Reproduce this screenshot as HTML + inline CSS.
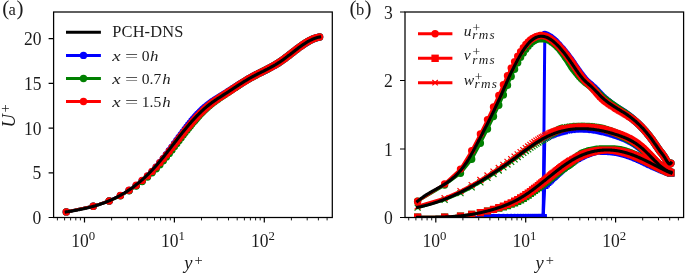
<!DOCTYPE html>
<html><head><meta charset="utf-8"><title>figure</title><style>html,body{margin:0;padding:0;background:#fff}svg{display:block}</style></head><body>
<svg width="685" height="274" viewBox="0 0 685 274">
<rect width="685" height="274" fill="#fff"/>
<defs><clipPath id="ca"><rect x="53.6" y="12.0" width="278.7" height="205.5"/></clipPath><clipPath id="cb"><rect x="405.0" y="12.0" width="278.6" height="205.5"/></clipPath></defs>
<g clip-path="url(#ca)">
<polyline points="66.3,211.9 93.3,206.3 109.2,200.9 120.4,195.6 129.1,190.5 136.2,185.6 142.2,180.8 147.5,176.2 152.1,171.6 156.2,167.2 159.9,162.8 163.3,158.6 166.4,154.6 169.3,150.8 172,147.2 174.5,143.8 176.9,140.5 179.1,137.5 181.2,134.6 183.2,131.9 185.1,129.4 187,127 188.7,124.8 190.4,122.7 191.9,120.8 193.5,119 195,117.3 196.4,115.8 197.7,114.3 199.1,112.9 200.3,111.6 201.6,110.4 202.8,109.3 204,108.3 205.1,107.3 206.2,106.4 207.3,105.5 208.3,104.7 209.3,103.9 210.3,103.2 211.3,102.5 212.2,101.8 213.1,101.2 214,100.6 214.9,100 215.8,99.5 216.6,98.9 217.4,98.4 218.2,97.9 219,97.4 219.8,96.9 220.5,96.5 221.3,96 222,95.6 222.7,95.1 223.4,94.7 224.1,94.3 224.8,93.9 225.5,93.4 226.1,93 226.8,92.6 227.4,92.2 228,91.8 228.6,91.4 229.3,91 229.9,90.7 230.4,90.3 231,89.9 231.6,89.6 232.1,89.2 232.7,88.8 233.2,88.5 233.8,88.1 234.3,87.8 234.8,87.5 235.4,87.1 235.9,86.8 236.4,86.5 236.9,86.1 237.4,85.8 237.8,85.5 238.3,85.2 238.8,84.9 239.3,84.6 239.7,84.3 240.2,84 240.6,83.7 241.1,83.5 241.5,83.2 242,82.9 242.4,82.6 242.8,82.4 243.7,81.8 244.5,81.3 245.3,80.9 246.1,80.4 246.8,79.9 247.6,79.5 248.3,79 249.1,78.6 249.8,78.2 250.5,77.8 251.2,77.4 251.9,77 252.5,76.7 253.2,76.3 253.8,76 254.5,75.6 255.1,75.3 255.7,75 256.3,74.7 256.9,74.4 257.5,74.1 258.1,73.8 258.6,73.5 259.2,73.2 259.8,72.9 260.3,72.7 260.8,72.4 261.4,72.1 261.9,71.9 262.4,71.6 262.9,71.4 263.4,71.1 263.9,70.9 264.4,70.6 264.9,70.4 265.4,70.1 265.9,69.9 266.3,69.7 266.8,69.4 267.2,69.2 267.7,69 268.1,68.7 268.8,68.4 269.5,68 270.1,67.7 270.7,67.4 271.3,67 271.9,66.7 272.5,66.4 273.1,66 273.7,65.7 274.3,65.4 274.9,65 275.4,64.7 276,64.4 276.5,64.1 277,63.7 277.6,63.4 278.1,63.1 278.6,62.7 279.1,62.4 279.6,62.1 280.1,61.8 280.6,61.4 281.1,61.1 281.5,60.8 282,60.4 282.5,60.1 282.9,59.8 283.4,59.5 283.8,59.1 284.3,58.8 284.7,58.5 285.1,58.2 285.6,57.8 286,57.5 286.4,57.2 286.8,56.9 287.2,56.6 287.6,56.3 288,56 288.4,55.7 289,55.2 289.5,54.8 290,54.5 290.5,54.1 291,53.7 291.5,53.3 292,52.9 292.5,52.5 292.9,52.2 293.4,51.8 293.9,51.4 294.3,51.1 294.8,50.7 295.2,50.4 295.6,50.1 296.1,49.7 296.5,49.4 296.9,49.1 297.4,48.7 297.8,48.4 298.2,48.1 298.6,47.8 299,47.5 299.5,47.1 300,46.8 300.5,46.4 301,46.1 301.4,45.7 301.9,45.4 302.4,45.1 302.8,44.8 303.3,44.5 303.7,44.2 304.2,43.9 304.6,43.6 305.1,43.3 305.5,43 305.9,42.8 306.4,42.5 306.9,42.2 307.4,41.9 307.9,41.6 308.4,41.3 308.8,41 309.3,40.8 309.8,40.6 310.2,40.3 310.7,40.1 311.2,39.8 311.7,39.6 312.2,39.4 312.7,39.1 313.2,38.9 313.7,38.7 314.2,38.5 314.6,38.4 315.2,38.2 315.7,38 316.2,37.8 316.7,37.7 317.2,37.5 317.7,37.4 318.2,37.3 318.8,37.2 319.3,37.1 319.6,37" fill="none" stroke="#0000ff" stroke-width="3.0" stroke-linejoin="round" stroke-linecap="square"/>
<path d="M66.3 211.9h0M93.3 206.3h0M109.2 200.9h0M120.4 195.6h0M129.1 190.5h0M136.2 185.6h0M142.2 180.8h0M147.5 176.2h0M152.1 171.6h0M156.2 167.2h0M159.9 162.8h0M163.3 158.6h0M166.4 154.6h0M169.3 150.8h0M172 147.2h0M174.5 143.8h0M176.9 140.5h0M179.1 137.5h0M181.2 134.6h0M183.2 131.9h0M185.1 129.4h0M187 127h0M188.7 124.8h0M190.4 122.7h0M191.9 120.8h0M193.5 119h0M195 117.3h0M196.4 115.8h0M197.7 114.3h0M199.1 112.9h0M200.3 111.6h0M201.6 110.4h0M202.8 109.3h0M204 108.3h0M205.1 107.3h0M206.2 106.4h0M207.3 105.5h0M208.3 104.7h0M209.3 103.9h0M210.3 103.2h0M211.3 102.5h0M212.2 101.8h0M213.1 101.2h0M214 100.6h0M214.9 100h0M215.8 99.5h0M216.6 98.9h0M217.4 98.4h0M218.2 97.9h0M219 97.4h0M219.8 96.9h0M221.3 96h0M222.7 95.1h0M224.1 94.3h0M225.5 93.4h0M226.8 92.6h0M228 91.8h0M229.3 91h0M230.4 90.3h0M231.6 89.6h0M232.7 88.8h0M233.8 88.1h0M234.8 87.5h0M235.9 86.8h0M236.9 86.1h0M237.8 85.5h0M238.8 84.9h0M239.7 84.3h0M240.6 83.7h0M241.5 83.2h0M242.4 82.6h0M243.2 82.1h0M244.1 81.6h0M244.9 81.1h0M245.7 80.6h0M246.5 80.1h0M247.6 79.5h0M248.7 78.8h0M249.8 78.2h0M250.8 77.6h0M251.9 77h0M252.9 76.5h0M253.8 76h0M254.8 75.5h0M255.7 75h0M256.6 74.5h0M257.5 74.1h0M258.4 73.6h0M259.2 73.2h0M260 72.8h0M260.8 72.4h0M261.9 71.9h0M262.9 71.4h0M263.9 70.9h0M264.9 70.4h0M265.9 69.9h0M266.8 69.4h0M267.7 69h0M268.6 68.5h0M269.5 68h0M270.3 67.6h0M271.1 67.1h0M271.9 66.7h0M272.7 66.3h0M273.7 65.7h0M274.7 65.2h0M275.6 64.6h0M276.5 64.1h0M277.4 63.5h0M278.3 63h0M279.1 62.4h0M279.9 61.9h0M280.7 61.3h0M281.5 60.8h0M282.3 60.2h0M283.1 59.7h0M283.8 59.1h0M284.6 58.6h0M285.4 57.9h0M286.3 57.3h0M287.1 56.7h0M287.9 56.1h0M288.7 55.5h0M289.5 54.8h0M290.2 54.3h0M291 53.7h0M291.7 53.1h0M292.5 52.5h0M293.3 51.9h0M294.1 51.3h0M294.9 50.6h0M295.6 50.1h0M296.4 49.5h0M297.2 48.9h0M297.9 48.3h0M298.7 47.7h0M299.5 47.1h0M300.3 46.6h0M301.1 46h0M301.8 45.5h0M302.6 45h0M303.4 44.4h0M304.2 43.9h0M305 43.4h0M305.7 42.9h0M306.6 42.4h0M307.4 41.9h0M308.2 41.4h0M309 41h0M309.8 40.5h0M310.7 40.1h0M311.5 39.7h0M312.3 39.3h0M313.2 38.9h0M314.1 38.6h0M315 38.2h0M315.8 38h0M316.7 37.7h0M317.6 37.4h0M318.5 37.2h0M319.5 37.1h0M319.6 37h0" fill="none" stroke="#0000ff" stroke-width="7.4" stroke-linecap="round"/>
<polyline points="66.3,211.9 93.3,206.3 109.2,201 120.4,195.8 129.1,190.8 136.2,186 142.2,181.5 147.5,177.1 152.1,172.8 156.2,168.7 159.9,164.7 163.3,160.8 166.4,157 169.3,153.4 172,149.9 174.5,146.6 176.9,143.5 179.1,140.5 181.2,137.7 183.2,135.1 185.1,132.6 187,130.2 188.7,128 190.4,125.9 191.9,124 193.5,122.1 195,120.4 196.4,118.7 197.7,117.2 199.1,115.7 200.3,114.3 201.6,113 202.8,111.8 204,110.6 205.1,109.5 206.2,108.5 207.3,107.5 208.3,106.6 209.3,105.7 210.3,104.8 211.3,104.1 212.2,103.3 213.1,102.6 214,101.9 214.9,101.3 215.8,100.6 216.6,100 217.4,99.4 218.2,98.9 219,98.3 219.8,97.8 220.5,97.3 221.3,96.8 222,96.3 222.7,95.8 223.4,95.4 224.1,94.9 224.8,94.5 225.5,94 226.1,93.6 226.8,93.2 227.4,92.7 228,92.3 228.6,91.9 229.3,91.5 229.9,91.1 230.4,90.7 231,90.3 231.6,89.9 232.1,89.6 232.7,89.2 233.2,88.8 233.8,88.4 234.3,88.1 234.8,87.7 235.4,87.4 235.9,87.1 236.4,86.7 236.9,86.4 237.4,86.1 237.8,85.7 238.3,85.4 238.8,85.1 239.3,84.8 239.7,84.5 240.2,84.2 240.6,83.9 241.1,83.6 241.5,83.3 242,83.1 242.4,82.8 242.8,82.5 243.7,82 244.5,81.5 245.3,81 246.1,80.5 246.8,80 247.6,79.6 248.3,79.1 249.1,78.7 249.8,78.3 250.5,77.9 251.2,77.5 251.9,77.1 252.5,76.7 253.2,76.4 253.8,76 254.5,75.7 255.1,75.4 255.7,75 256.3,74.7 256.9,74.4 257.5,74.1 258.1,73.8 258.6,73.5 259.2,73.3 259.8,73 260.3,72.7 260.8,72.4 261.4,72.2 261.9,71.9 262.4,71.6 262.9,71.4 263.4,71.1 263.9,70.9 264.4,70.6 264.9,70.4 265.4,70.2 265.9,69.9 266.3,69.7 266.8,69.4 267.2,69.2 267.7,69 268.1,68.7 268.8,68.4 269.5,68.1 270.1,67.7 270.7,67.4 271.3,67 271.9,66.7 272.5,66.4 273.1,66 273.7,65.7 274.3,65.4 274.9,65 275.4,64.7 276,64.4 276.5,64.1 277,63.7 277.6,63.4 278.1,63.1 278.6,62.7 279.1,62.4 279.6,62.1 280.1,61.8 280.6,61.4 281.1,61.1 281.5,60.8 282,60.4 282.5,60.1 282.9,59.8 283.4,59.5 283.8,59.1 284.3,58.8 284.7,58.5 285.1,58.2 285.6,57.8 286,57.5 286.4,57.2 286.8,56.9 287.2,56.6 287.6,56.3 288,56 288.4,55.7 289,55.3 289.5,54.8 290,54.5 290.5,54.1 291,53.7 291.5,53.3 292,52.9 292.5,52.5 292.9,52.2 293.4,51.8 293.9,51.4 294.3,51.1 294.8,50.7 295.2,50.4 295.6,50.1 296.1,49.7 296.5,49.4 296.9,49.1 297.4,48.7 297.8,48.4 298.2,48.1 298.6,47.8 299,47.5 299.5,47.1 300,46.8 300.5,46.4 301,46.1 301.4,45.7 301.9,45.4 302.4,45.1 302.8,44.8 303.3,44.5 303.7,44.2 304.2,43.9 304.6,43.6 305.1,43.3 305.5,43 305.9,42.8 306.4,42.5 306.9,42.2 307.4,41.9 307.9,41.6 308.4,41.3 308.8,41.1 309.3,40.8 309.8,40.6 310.2,40.3 310.7,40.1 311.2,39.8 311.7,39.6 312.2,39.4 312.7,39.1 313.2,38.9 313.7,38.7 314.2,38.5 314.6,38.4 315.2,38.2 315.7,38 316.2,37.8 316.7,37.7 317.2,37.5 317.7,37.4 318.2,37.3 318.8,37.2 319.3,37.1 319.6,37" fill="none" stroke="#008000" stroke-width="3.0" stroke-linejoin="round" stroke-linecap="square"/>
<path d="M66.3 211.9h0M93.3 206.3h0M109.2 201h0M120.4 195.8h0M129.1 190.8h0M136.2 186h0M142.2 181.5h0M147.5 177.1h0M152.1 172.8h0M156.2 168.7h0M159.9 164.7h0M163.3 160.8h0M166.4 157h0M169.3 153.4h0M172 149.9h0M174.5 146.6h0M176.9 143.5h0M179.1 140.5h0M181.2 137.7h0M183.2 135.1h0M185.1 132.6h0M187 130.2h0M188.7 128h0M190.4 125.9h0M191.9 124h0M193.5 122.1h0M195 120.4h0M196.4 118.7h0M197.7 117.2h0M199.1 115.7h0M200.3 114.3h0M201.6 113h0M202.8 111.8h0M204 110.6h0M205.1 109.5h0M206.2 108.5h0M207.3 107.5h0M208.3 106.6h0M209.3 105.7h0M210.3 104.8h0M211.3 104.1h0M212.2 103.3h0M213.1 102.6h0M214 101.9h0M214.9 101.3h0M215.8 100.6h0M216.6 100h0M217.4 99.4h0M218.2 98.9h0M219 98.3h0M219.8 97.8h0M220.5 97.3h0M222 96.3h0M223.4 95.4h0M224.8 94.5h0M226.1 93.6h0M227.4 92.7h0M228.6 91.9h0M229.9 91.1h0M231 90.3h0M232.1 89.6h0M233.2 88.8h0M234.3 88.1h0M235.4 87.4h0M236.4 86.7h0M237.4 86.1h0M238.3 85.4h0M239.3 84.8h0M240.2 84.2h0M241.1 83.6h0M242 83.1h0M242.8 82.5h0M243.7 82h0M244.5 81.5h0M245.3 81h0M246.1 80.5h0M246.8 80h0M248 79.3h0M249.1 78.7h0M250.1 78.1h0M251.2 77.5h0M252.2 76.9h0M253.2 76.4h0M254.2 75.9h0M255.1 75.4h0M256 74.9h0M256.9 74.4h0M257.8 74h0M258.6 73.5h0M259.5 73.1h0M260.3 72.7h0M261.1 72.3h0M262.2 71.8h0M263.2 71.3h0M264.2 70.8h0M265.2 70.3h0M266.1 69.8h0M267 69.3h0M267.9 68.9h0M268.8 68.4h0M269.7 67.9h0M270.5 67.5h0M271.3 67h0M272.1 66.6h0M272.9 66.1h0M273.9 65.6h0M274.9 65h0M275.8 64.5h0M276.7 64h0M277.6 63.4h0M278.4 62.9h0M279.3 62.3h0M280.1 61.8h0M280.9 61.2h0M281.7 60.7h0M282.5 60.1h0M283.2 59.6h0M284 59h0M284.7 58.5h0M285.6 57.8h0M286.4 57.2h0M287.2 56.6h0M288 56h0M288.8 55.4h0M289.6 54.7h0M290.4 54.2h0M291.1 53.6h0M291.9 53h0M292.6 52.4h0M293.4 51.8h0M294.2 51.2h0M295 50.6h0M295.8 50h0M296.5 49.4h0M297.3 48.8h0M298 48.3h0M298.8 47.7h0M299.6 47.1h0M300.4 46.5h0M301.2 45.9h0M301.9 45.4h0M302.7 44.9h0M303.5 44.3h0M304.3 43.8h0M305.1 43.3h0M305.8 42.8h0M306.7 42.3h0M307.5 41.8h0M308.3 41.4h0M309.1 40.9h0M310 40.4h0M310.8 40h0M311.7 39.6h0M312.6 39.2h0M313.4 38.8h0M314.3 38.5h0M315.2 38.2h0M316 37.9h0M316.9 37.6h0M317.8 37.4h0M318.7 37.2h0M319.6 37h0" fill="none" stroke="#008000" stroke-width="7.4" stroke-linecap="round"/>
<polyline points="66.3,211.9 93.3,206.3 109.2,200.9 120.4,195.5 129.1,190.3 136.2,185.3 142.2,180.5 147.5,175.9 152.1,171.4 156.2,167.1 159.9,162.8 163.3,158.8 166.4,154.9 169.3,151.3 172,147.8 174.5,144.5 176.9,141.4 179.1,138.5 181.2,135.8 183.2,133.2 185.1,130.8 187,128.5 188.7,126.4 190.4,124.4 191.9,122.5 193.5,120.7 195,119 196.4,117.5 197.7,116 199.1,114.6 200.3,113.3 201.6,112.1 202.8,110.9 204,109.8 205.1,108.7 206.2,107.7 207.3,106.8 208.3,105.9 209.3,105.1 210.3,104.3 211.3,103.5 212.2,102.8 213.1,102.1 214,101.5 214.9,100.8 215.8,100.2 216.6,99.7 217.4,99.1 218.2,98.6 219,98 219.8,97.5 220.5,97 221.3,96.5 222,96.1 222.7,95.6 223.4,95.1 224.1,94.7 224.8,94.2 225.5,93.8 226.1,93.4 226.8,93 227.4,92.5 228,92.1 228.6,91.7 229.3,91.3 229.9,90.9 230.4,90.5 231,90.2 231.6,89.8 232.1,89.4 232.7,89 233.2,88.7 233.8,88.3 234.3,88 234.8,87.6 235.4,87.3 235.9,86.9 236.4,86.6 236.9,86.3 237.4,86 237.8,85.6 238.3,85.3 238.8,85 239.3,84.7 239.7,84.4 240.2,84.1 240.6,83.8 241.1,83.5 241.5,83.3 242,83 242.4,82.7 242.8,82.4 243.7,81.9 244.5,81.4 245.3,80.9 246.1,80.4 246.8,80 247.6,79.5 248.3,79.1 249.1,78.6 249.8,78.2 250.5,77.8 251.2,77.4 251.9,77.1 252.5,76.7 253.2,76.3 253.8,76 254.5,75.7 255.1,75.3 255.7,75 256.3,74.7 256.9,74.4 257.5,74.1 258.1,73.8 258.6,73.5 259.2,73.2 259.8,73 260.3,72.7 260.8,72.4 261.4,72.2 261.9,71.9 262.4,71.6 262.9,71.4 263.4,71.1 263.9,70.9 264.4,70.6 264.9,70.4 265.4,70.1 265.9,69.9 266.3,69.7 266.8,69.4 267.2,69.2 267.7,69 268.1,68.7 268.8,68.4 269.5,68 270.1,67.7 270.7,67.4 271.3,67 271.9,66.7 272.5,66.4 273.1,66 273.7,65.7 274.3,65.4 274.9,65 275.4,64.7 276,64.4 276.5,64.1 277,63.7 277.6,63.4 278.1,63.1 278.6,62.7 279.1,62.4 279.6,62.1 280.1,61.8 280.6,61.4 281.1,61.1 281.5,60.8 282,60.4 282.5,60.1 282.9,59.8 283.4,59.5 283.8,59.1 284.3,58.8 284.7,58.5 285.1,58.2 285.6,57.8 286,57.5 286.4,57.2 286.8,56.9 287.2,56.6 287.6,56.3 288,56 288.4,55.7 289,55.2 289.5,54.8 290,54.5 290.5,54.1 291,53.7 291.5,53.3 292,52.9 292.5,52.5 292.9,52.2 293.4,51.8 293.9,51.4 294.3,51.1 294.8,50.7 295.2,50.4 295.6,50.1 296.1,49.7 296.5,49.4 296.9,49.1 297.4,48.7 297.8,48.4 298.2,48.1 298.6,47.8 299,47.5 299.5,47.1 300,46.8 300.5,46.4 301,46.1 301.4,45.7 301.9,45.4 302.4,45.1 302.8,44.8 303.3,44.5 303.7,44.2 304.2,43.9 304.6,43.6 305.1,43.3 305.5,43 305.9,42.8 306.4,42.5 306.9,42.2 307.4,41.9 307.9,41.6 308.4,41.3 308.8,41.1 309.3,40.8 309.8,40.6 310.2,40.3 310.7,40.1 311.2,39.8 311.7,39.6 312.2,39.4 312.7,39.1 313.2,38.9 313.7,38.7 314.2,38.5 314.6,38.4 315.2,38.2 315.7,38 316.2,37.8 316.7,37.7 317.2,37.5 317.7,37.4 318.2,37.3 318.8,37.2 319.3,37.1 319.6,37" fill="none" stroke="#ff0000" stroke-width="3.0" stroke-linejoin="round" stroke-linecap="square"/>
<path d="M66.3 211.9h0M93.3 206.3h0M109.2 200.9h0M120.4 195.5h0M129.1 190.3h0M136.2 185.3h0M142.2 180.5h0M147.5 175.9h0M152.1 171.4h0M156.2 167.1h0M159.9 162.8h0M163.3 158.8h0M166.4 154.9h0M169.3 151.3h0M172 147.8h0M174.5 144.5h0M176.9 141.4h0M179.1 138.5h0M181.2 135.8h0M183.2 133.2h0M185.1 130.8h0M187 128.5h0M188.7 126.4h0M190.4 124.4h0M191.9 122.5h0M193.5 120.7h0M195 119h0M196.4 117.5h0M197.7 116h0M199.1 114.6h0M200.3 113.3h0M201.6 112.1h0M202.8 110.9h0M204 109.8h0M205.1 108.7h0M206.2 107.7h0M207.3 106.8h0M208.3 105.9h0M209.3 105.1h0M210.3 104.3h0M211.3 103.5h0M212.2 102.8h0M213.1 102.1h0M214 101.5h0M214.9 100.8h0M215.8 100.2h0M216.6 99.7h0M217.4 99.1h0M218.2 98.6h0M219 98h0M219.8 97.5h0M220.5 97h0M222 96.1h0M223.4 95.1h0M224.8 94.2h0M226.1 93.4h0M227.4 92.5h0M228.6 91.7h0M229.9 90.9h0M231 90.2h0M232.1 89.4h0M233.2 88.7h0M234.3 88h0M235.4 87.3h0M236.4 86.6h0M237.4 86h0M238.3 85.3h0M239.3 84.7h0M240.2 84.1h0M241.1 83.5h0M242 83h0M242.8 82.4h0M243.7 81.9h0M244.5 81.4h0M245.3 80.9h0M246.1 80.4h0M246.8 80h0M248 79.3h0M249.1 78.6h0M250.1 78h0M251.2 77.4h0M252.2 76.9h0M253.2 76.3h0M254.2 75.8h0M255.1 75.3h0M256 74.9h0M256.9 74.4h0M257.8 74h0M258.6 73.5h0M259.5 73.1h0M260.3 72.7h0M261.4 72.2h0M262.4 71.6h0M263.4 71.1h0M264.4 70.6h0M265.4 70.1h0M266.3 69.7h0M267.2 69.2h0M268.1 68.7h0M269 68.3h0M269.9 67.8h0M270.7 67.4h0M271.5 66.9h0M272.3 66.5h0M273.1 66h0M274.1 65.5h0M275 64.9h0M276 64.4h0M276.9 63.8h0M277.7 63.3h0M278.6 62.7h0M279.4 62.2h0M280.3 61.7h0M281.1 61.1h0M281.8 60.6h0M282.6 60h0M283.4 59.5h0M284.1 58.9h0M284.9 58.4h0M285.7 57.7h0M286.6 57.1h0M287.4 56.5h0M288.2 55.9h0M289 55.2h0M289.7 54.6h0M290.5 54.1h0M291.2 53.5h0M292 52.9h0M292.7 52.3h0M293.5 51.7h0M294.3 51.1h0M295.1 50.5h0M295.9 49.9h0M296.6 49.3h0M297.4 48.7h0M298.1 48.2h0M298.9 47.6h0M299.7 47h0M300.5 46.4h0M301.3 45.9h0M302 45.4h0M302.8 44.8h0M303.7 44.2h0M304.4 43.7h0M305.2 43.2h0M306 42.7h0M306.8 42.2h0M307.6 41.7h0M308.4 41.3h0M309.3 40.8h0M310.1 40.4h0M311 39.9h0M311.8 39.5h0M312.7 39.1h0M313.5 38.8h0M314.4 38.4h0M315.3 38.1h0M316.2 37.8h0M317.1 37.6h0M318 37.4h0M318.9 37.2h0M319.6 37h0" fill="none" stroke="#ff0000" stroke-width="7.4" stroke-linecap="round"/>
<polyline points="66.3,211.9 66.9,211.8 67.5,211.7 68.2,211.6 68.8,211.5 69.4,211.4 70.1,211.3 70.7,211.2 71.4,211.1 72,211 72.6,210.9 73.3,210.7 73.9,210.6 74.5,210.5 75.2,210.4 75.8,210.3 76.4,210.2 77.1,210.1 77.7,209.9 78.3,209.8 79,209.7 79.6,209.6 80.2,209.4 80.9,209.3 81.5,209.2 82.1,209 82.8,208.9 83.4,208.8 84,208.6 84.7,208.5 85.3,208.3 86,208.2 86.6,208.1 87.2,207.9 87.9,207.7 88.5,207.6 89.1,207.4 89.8,207.3 90.4,207.1 91,206.9 91.7,206.8 92.3,206.6 92.9,206.4 93.6,206.2 94.2,206.1 94.8,205.9 95.5,205.7 96.1,205.5 96.7,205.3 97.4,205.1 98,204.9 98.7,204.7 99.3,204.5 99.9,204.3 100.6,204.1 101.2,203.8 101.8,203.6 102.5,203.4 103.1,203.2 103.7,202.9 104.4,202.7 105,202.5 105.6,202.2 106.3,202 106.9,201.7 107.5,201.4 108.2,201.2 108.8,200.9 109.4,200.6 110.1,200.4 110.7,200.1 111.3,199.8 112,199.5 112.6,199.2 113.3,198.9 113.9,198.6 114.5,198.3 115.2,198 115.8,197.7 116.4,197.4 117.1,197.1 117.7,196.7 118.3,196.4 119,196.1 119.6,195.7 120.2,195.4 120.9,195 121.5,194.7 122.1,194.3 122.8,193.9 123.4,193.5 124,193.2 124.7,192.8 125.3,192.4 125.9,192 126.6,191.6 127.2,191.2 127.9,190.8 128.5,190.3 129.1,189.9 129.8,189.5 130.4,189 131,188.6 131.7,188.1 132.3,187.7 132.9,187.2 133.6,186.8 134.2,186.3 134.8,185.8 135.5,185.3 136.1,184.8 136.7,184.3 137.4,183.8 138,183.3 138.6,182.8 139.3,182.3 139.9,181.7 140.6,181.2 141.2,180.6 141.8,180.1 142.5,179.5 143.1,179 143.7,178.4 144.4,177.8 145,177.2 145.6,176.6 146.3,176 146.9,175.4 147.5,174.8 148.2,174.2 148.8,173.5 149.4,172.9 150.1,172.2 150.7,171.6 151.3,170.9 152,170.2 152.6,169.6 153.2,168.9 153.9,168.2 154.5,167.5 155.2,166.8 155.8,166.1 156.4,165.3 157.1,164.6 157.7,163.9 158.3,163.1 159,162.4 159.6,161.6 160.2,160.9 160.9,160.1 161.5,159.3 162.1,158.5 162.8,157.8 163.4,157 164,156.2 164.7,155.4 165.3,154.6 165.9,153.8 166.6,153 167.2,152.2 167.8,151.3 168.5,150.5 169.1,149.7 169.8,148.9 170.4,148.1 171,147.3 171.7,146.4 172.3,145.6 172.9,144.8 173.6,144 174.2,143.2 174.8,142.3 175.5,141.5 176.1,140.7 176.7,139.9 177.4,139.1 178,138.2 178.6,137.4 179.3,136.6 179.9,135.8 180.5,135 181.2,134.2 181.8,133.4 182.4,132.6 183.1,131.8 183.7,131 184.4,130.2 185,129.4 185.6,128.7 186.3,127.9 186.9,127.1 187.5,126.4 188.2,125.6 188.8,124.9 189.4,124.1 190.1,123.4 190.7,122.7 191.3,121.9 192,121.2 192.6,120.5 193.2,119.8 193.9,119.1 194.5,118.4 195.1,117.7 195.8,117.1 196.4,116.4 197.1,115.7 197.7,115.1 198.3,114.5 199,113.8 199.6,113.2 200.2,112.6 200.9,112 201.5,111.3 202.1,110.7 202.8,110.2 203.4,109.6 204,109 204.7,108.4 205.3,107.9 205.9,107.3 206.6,106.8 207.2,106.3 207.8,105.8 208.5,105.2 209.1,104.7 209.7,104.2 210.4,103.8 211,103.3 211.7,102.8 212.3,102.3 212.9,101.9 213.6,101.4 214.2,101 214.8,100.6 215.5,100.1 216.1,99.7 216.7,99.3 217.4,98.8 218,98.4 218.6,98 219.3,97.6 219.9,97.2 220.5,96.8 221.2,96.4 221.8,96 222.4,95.6 223.1,95.2 223.7,94.7 224.3,94.3 225,93.9 225.6,93.5 226.3,93.1 226.9,92.7 227.5,92.3 228.2,91.9 228.8,91.5 229.4,91.1 230.1,90.6 230.7,90.2 231.3,89.8 232,89.4 232.6,89 233.2,88.6 233.9,88.1 234.5,87.7 235.1,87.3 235.8,86.9 236.4,86.5 237,86.1 237.7,85.7 238.3,85.2 238.9,84.8 239.6,84.4 240.2,84 240.9,83.6 241.5,83.2 242.1,82.8 242.8,82.4 243.4,82 244,81.6 244.7,81.2 245.3,80.9 245.9,80.5 246.6,80.1 247.2,79.7 247.8,79.3 248.5,79 249.1,78.6 249.7,78.2 250.4,77.9 251,77.5 251.6,77.2 252.3,76.8 252.9,76.5 253.6,76.1 254.2,75.8 254.8,75.5 255.5,75.1 256.1,74.8 256.7,74.5 257.4,74.2 258,73.8 258.6,73.5 259.3,73.2 259.9,72.9 260.5,72.6 261.2,72.2 261.8,71.9 262.4,71.6 263.1,71.3 263.7,71 264.3,70.7 265,70.3 265.6,70 266.2,69.7 266.9,69.4 267.5,69.1 268.2,68.7 268.8,68.4 269.4,68.1 270.1,67.7 270.7,67.4 271.3,67 272,66.7 272.6,66.3 273.2,66 273.9,65.6 274.5,65.2 275.1,64.9 275.8,64.5 276.4,64.1 277,63.7 277.7,63.3 278.3,62.9 278.9,62.5 279.6,62.1 280.2,61.7 280.8,61.2 281.5,60.8 282.1,60.4 282.8,59.9 283.4,59.5 284,59 284.7,58.5 285.3,58.1 285.9,57.6 286.6,57.1 287.2,56.6 287.8,56.1 288.5,55.6 289.1,55.1 289.7,54.7 290.4,54.2 291,53.7 291.6,53.2 292.3,52.7 292.9,52.2 293.5,51.7 294.2,51.2 294.8,50.7 295.4,50.2 296.1,49.7 296.7,49.2 297.4,48.8 298,48.3 298.6,47.8 299.3,47.3 299.9,46.9 300.5,46.4 301.2,45.9 301.8,45.5 302.4,45.1 303.1,44.6 303.7,44.2 304.3,43.8 305,43.4 305.6,43 306.2,42.6 306.9,42.2 307.5,41.8 308.1,41.4 308.8,41.1 309.4,40.7 310.1,40.4 310.7,40.1 311.3,39.8 312,39.5 312.6,39.2 313.2,38.9 313.9,38.7 314.5,38.4 315.1,38.2 315.8,38 316.4,37.8 317,37.6 317.7,37.4 318.3,37.3 318.9,37.1 319.6,37" fill="none" stroke="#000" stroke-width="3.1" stroke-linejoin="round" stroke-linecap="square"/>
</g>
<g clip-path="url(#cb)">
<polyline points="417.6,217.5 444.6,217.5 460.5,217.5 471.7,217.5 480.4,217.5 487.5,217.5 493.5,217.5 498.8,217.5 503.4,217.5 507.5,217.5 511.2,217.5 514.6,217.5 517.7,217.5 520.6,217.5 523.3,217.5 525.8,217.5 528.2,217.5 530.4,217.5 532.5,217.5 534.5,217.5 536.4,217.5 538.3,217.5 540,217.5 541.7,217.5 543.2,217.5 544.8,34.4 546.3,34.9 547.7,35.6 549,36.4 550.4,37.2 551.6,38.1 552.9,39.1 554.1,40.2 555.3,41.3 556.4,42.4 557.5,43.6 558.6,44.8 559.6,46 560.6,47.1 561.6,48.2 562.6,49.3 563.5,50.4 564.4,51.5 565.3,52.6 566.2,53.7 567.1,54.9 567.9,56 568.7,57.1 569.5,58.2 570.3,59.2 571.1,60.3 571.8,61.4 572.6,62.5 573.3,63.5 574,64.6 574.7,65.6 575.4,66.6 576.1,67.6 576.8,68.6 577.4,69.6 578.1,70.5 578.7,71.4 579.3,72.3 579.9,73.1 580.6,74 581.2,74.8 581.7,75.5 582.3,76.3 582.9,77 583.4,77.7 584,78.3 584.5,79 585.1,79.6 585.6,80.1 586.1,80.7 586.7,81.2 587.2,81.6 587.7,82.1 588.2,82.6 588.7,83 589.1,83.4 589.6,83.8 590.1,84.2 590.6,84.6 591,85 591.5,85.4 591.9,85.9 592.4,86.3 592.8,86.7 593.3,87.1 593.7,87.5 594.1,87.9 594.5,88.3 595,88.7 595.4,89.2 595.8,89.6 596.2,90 596.6,90.4 597,90.8 597.4,91.2 597.8,91.6 598.1,92.1 598.5,92.5 598.9,92.9 599.3,93.2 599.6,93.6 600,94 600.4,94.4 600.7,94.8 601.1,95.1 601.4,95.5 602.1,96.2 602.8,96.9 603.5,97.5 604.2,98.1 604.8,98.7 605.5,99.3 606.1,99.8 606.7,100.3 607.3,100.8 607.9,101.3 608.5,101.8 609.1,102.2 609.7,102.6 610.2,103.1 610.8,103.5 611.3,103.9 611.9,104.3 612.4,104.7 612.9,105 613.5,105.4 614,105.8 614.5,106.1 615,106.4 615.5,106.8 616,107.1 616.5,107.4 616.9,107.7 617.4,108 617.9,108.3 618.3,108.6 618.8,108.9 619.2,109.2 619.7,109.5 620.1,109.8 620.5,110 621,110.3 621.4,110.6 622,111 622.6,111.4 623.2,111.8 623.8,112.2 624.4,112.6 625,113 625.6,113.4 626.2,113.8 626.7,114.2 627.3,114.5 627.8,114.9 628.3,115.3 628.9,115.7 629.4,116.1 629.9,116.5 630.4,116.9 630.9,117.3 631.4,117.7 631.9,118.1 632.4,118.5 632.8,118.9 633.3,119.3 633.8,119.7 634.2,120.1 634.7,120.5 635.1,120.9 635.6,121.3 636,121.7 636.4,122.1 636.9,122.5 637.3,122.9 637.7,123.3 638.1,123.7 638.5,124.1 638.9,124.5 639.3,124.9 639.7,125.2 640.1,125.6 640.5,126 640.9,126.4 641.3,126.8 641.7,127.2 642,127.6 642.4,128 642.8,128.4 643.2,128.8 643.5,129.2 643.9,129.6 644.2,130 644.6,130.4 644.9,130.8 645.3,131.1 645.6,131.5 645.9,131.9 646.3,132.3 646.6,132.7 646.9,133.1 647.3,133.5 647.6,133.9 647.9,134.3 648.2,134.7 648.6,135.1 648.9,135.5 649.2,135.9 649.5,136.3 649.8,136.7 650.2,137.2 650.6,137.7 651,138.3 651.4,138.8 651.8,139.3 652.2,139.8 652.6,140.4 652.9,140.9 653.3,141.4 653.7,142 654,142.5 654.4,143 654.8,143.5 655.1,144.1 655.5,144.6 655.8,145.1 656.2,145.6 656.5,146.1 656.9,146.6 657.2,147.1 657.5,147.6 657.9,148.1 658.2,148.6 658.5,149.1 658.9,149.5 659.2,150 659.5,150.4 659.8,150.8 660.1,151.2 660.4,151.7 660.8,152.1 661.1,152.5 661.4,152.9 661.8,153.4 662.2,153.9 662.6,154.4 662.9,154.9 663.3,155.4 663.6,155.9 663.9,156.3 664.2,156.7 664.5,157.2 664.8,157.6 665.1,158.1 665.3,158.5 665.6,159 665.9,159.4 666.1,159.9 666.4,160.3 666.7,160.8 666.9,161.2 667.3,161.7 667.6,162.2 667.9,162.7 668.2,163.1 668.6,163.5 669,163.8 669.5,164 670.1,163.9 670.5,163.7 670.9,163.2" fill="none" stroke="#0000ff" stroke-width="3.0" stroke-linejoin="round" stroke-linecap="square"/>
<path d="M417.6 217.5h0M444.6 217.5h0M460.5 217.5h0M471.7 217.5h0M480.4 217.5h0M487.5 217.5h0M493.5 217.5h0M498.8 217.5h0M503.4 217.5h0M507.5 217.5h0M511.2 217.5h0M514.6 217.5h0M517.7 217.5h0M520.6 217.5h0M523.3 217.5h0M525.8 217.5h0M528.2 217.5h0M530.4 217.5h0M532.5 217.5h0M534.5 217.5h0M536.4 217.5h0M538.3 217.5h0M540 217.5h0M541.7 217.5h0M543.2 217.5h0M544.8 34.4h0M546.3 34.9h0M547.7 35.6h0M549 36.4h0M550.4 37.2h0M551.6 38.1h0M552.9 39.1h0M554.1 40.2h0M555.3 41.3h0M556.4 42.4h0M557.5 43.6h0M558.6 44.8h0M559.6 46h0M560.6 47.1h0M561.6 48.2h0M562.6 49.3h0M563.5 50.4h0M564.4 51.5h0M565.3 52.6h0M566.2 53.7h0M567.1 54.9h0M567.9 56h0M568.7 57.1h0M569.5 58.2h0M570.3 59.2h0M571.1 60.3h0M571.8 61.4h0M572.6 62.5h0M573.3 63.5h0M574 64.6h0M574.7 65.6h0M575.4 66.6h0M576.1 67.6h0M576.8 68.6h0M577.4 69.6h0M578.1 70.5h0M578.7 71.4h0M579.3 72.3h0M579.9 73.1h0M580.6 74h0M581.2 74.8h0M581.7 75.5h0M582.3 76.3h0M582.9 77h0M584 78.3h0M585.1 79.6h0M586.1 80.7h0M587.2 81.6h0M588.2 82.6h0M589.1 83.4h0M590.1 84.2h0M591 85h0M591.9 85.9h0M592.8 86.7h0M593.7 87.5h0M594.5 88.3h0M595.4 89.2h0M596.2 90h0M597 90.8h0M597.8 91.6h0M598.5 92.5h0M599.3 93.2h0M600 94h0M600.7 94.8h0M601.4 95.5h0M602.1 96.2h0M602.8 96.9h0M603.5 97.5h0M604.2 98.1h0M605.1 99h0M606.1 99.8h0M607 100.6h0M607.9 101.3h0M608.8 102h0M609.7 102.6h0M610.5 103.3h0M611.3 103.9h0M612.1 104.5h0M612.9 105h0M613.7 105.6h0M614.5 106.1h0M615.2 106.6h0M616.2 107.2h0M617.2 107.9h0M618.1 108.5h0M619 109.1h0M619.9 109.6h0M620.8 110.2h0M621.6 110.7h0M622.4 111.3h0M623.2 111.8h0M624 112.3h0M624.8 112.8h0M625.6 113.4h0M626.3 113.9h0M627.1 114.4h0M628 115.1h0M628.9 115.7h0M629.7 116.4h0M630.6 117h0M631.4 117.7h0M632.2 118.4h0M633 119h0M633.8 119.7h0M634.5 120.4h0M635.3 121.1h0M636 121.7h0M636.7 122.4h0M637.4 123h0M638.1 123.7h0M638.8 124.3h0M639.5 125h0M640.1 125.6h0M640.8 126.3h0M641.4 126.9h0M642 127.6h0M642.8 128.4h0M643.5 129.2h0M644.2 130h0M644.9 130.8h0M645.6 131.5h0M646.3 132.3h0M646.9 133.1h0M647.6 133.9h0M648.2 134.7h0M648.9 135.5h0M649.5 136.3h0M650.1 137.1h0M650.7 137.9h0M651.3 138.7h0M651.9 139.4h0M652.5 140.2h0M653 141h0M653.6 141.8h0M654.1 142.6h0M654.7 143.4h0M655.2 144.2h0M655.7 145h0M656.3 145.7h0M656.8 146.5h0M657.3 147.3h0M657.9 148.1h0M658.5 148.9h0M659 149.7h0M659.6 150.5h0M660.1 151.2h0M660.8 152.1h0M661.4 152.8h0M662 153.6h0M662.6 154.4h0M663.1 155.2h0M663.7 156h0M664.3 156.9h0M664.8 157.6h0M665.3 158.4h0M665.7 159.2h0M666.2 160h0M666.7 160.8h0M667.2 161.6h0M667.7 162.4h0M668.3 163.1h0M669 163.8h0M669.9 164h0M670.7 163.5h0M670.9 163.2h0" fill="none" stroke="#0000ff" stroke-width="7.4" stroke-linecap="round"/>
<polyline points="417.6,217.5 444.6,217.5 460.5,217.5 471.7,217.5 480.4,217.5 487.5,217.5 493.5,217.5 498.8,217.5 503.4,217.5 507.5,217.5 511.2,217.5 514.6,217.5 517.7,217.5 520.6,217.5 523.3,217.5 525.8,217.5 528.2,217.5 530.4,217.5 532.5,217.5 534.5,217.5 536.4,217.5 538.3,217.5 540,217.5 541.7,217.5 543.2,217.5 544.8,185.3 546.3,183.8 547.7,182.5 549,181.1 550.4,179.9 551.6,178.6 552.9,177.4 554.1,176.3 555.3,175.2 556.4,174.1 557.5,173.1 558.6,172.1 559.6,171.1 560.6,170.2 561.6,169.3 562.6,168.5 563.5,167.7 564.4,167 565.3,166.3 566.2,165.7 567.1,165.1 567.9,164.4 568.7,163.9 569.5,163.3 570.3,162.7 571.1,162.2 571.8,161.7 572.6,161.2 573.3,160.7 574,160.3 574.7,159.9 575.4,159.4 576.1,159 576.8,158.6 577.4,158.3 578.1,157.9 578.7,157.6 579.3,157.2 579.9,156.9 580.6,156.6 581.2,156.3 581.7,156 582.3,155.7 582.9,155.5 583.4,155.2 584,155 584.5,154.7 585.1,154.5 585.6,154.3 586.1,154 586.7,153.8 587.2,153.6 587.7,153.4 588.2,153.3 588.7,153.1 589.1,152.9 589.6,152.7 590.1,152.6 591,152.3 591.9,152 592.8,151.7 593.7,151.5 594.5,151.2 595.4,151.1 596.2,151.1 597,151.1 597.8,151 598.5,151.1 599.3,151.1 600,151.1 600.7,151.1 601.4,151.2 602.1,151.2 602.8,151.3 603.5,151.3 604.2,151.4 604.8,151.5 605.5,151.5 606.1,151.5 606.7,151.5 607.3,151.5 607.9,151.5 608.5,151.5 609.1,151.5 609.7,151.5 610.2,151.5 610.8,151.6 611.3,151.6 611.9,151.6 612.4,151.7 612.9,151.7 613.5,151.8 614,151.8 614.5,151.9 615,152 615.7,152.1 616.5,152.2 617.2,152.3 617.9,152.4 618.5,152.5 619.2,152.6 619.9,152.7 620.5,152.9 621.2,153 621.8,153.2 622.4,153.3 623,153.4 623.6,153.6 624.2,153.7 624.8,153.9 625.4,154.1 626,154.2 626.5,154.4 627.1,154.5 627.6,154.7 628.2,154.9 628.7,155 629.2,155.2 629.7,155.4 630.2,155.6 630.7,155.7 631.2,155.9 631.7,156.1 632.2,156.3 632.7,156.4 633.1,156.6 633.8,156.9 634.4,157.1 635,157.3 635.6,157.6 636.2,157.8 636.7,158.1 637.3,158.3 637.9,158.5 638.4,158.8 638.9,159 639.5,159.2 640,159.5 640.5,159.7 641,159.9 641.5,160.2 642,160.4 642.5,160.6 643,160.9 643.5,161.1 644,161.3 644.5,161.5 644.9,161.8 645.4,162 645.8,162.2 646.4,162.5 646.9,162.7 647.5,163 648,163.3 648.6,163.5 649.1,163.8 649.6,164.1 650.1,164.3 650.6,164.5 651.1,164.7 651.6,165 652.1,165.2 652.6,165.4 653,165.6 653.5,165.8 654,166 654.5,166.2 655,166.5 655.6,166.7 656.1,166.9 656.6,167.2 657.1,167.4 657.6,167.6 658.1,167.8 658.6,168 659.1,168.3 659.6,168.5 660.1,168.7 660.5,168.9 661,169.1 661.5,169.3 662,169.5 662.6,169.8 663.1,170 663.6,170.2 664.1,170.4 664.6,170.6 665.1,170.8 665.5,171 666,171.2 666.5,171.4 667,171.6 667.5,171.8 668,172 668.5,172.2 669,172.4 669.5,172.6 670,172.8 670.5,173 670.9,173.1" fill="none" stroke="#0000ff" stroke-width="3.0" stroke-linejoin="round" stroke-linecap="square"/>
<path d="M417.6 217.5h.01M444.6 217.5h.01M460.5 217.5h.01M471.7 217.5h.01M480.4 217.5h.01M487.5 217.5h.01M493.5 217.5h.01M498.8 217.5h.01M503.4 217.5h.01M507.5 217.5h.01M511.2 217.5h.01M514.6 217.5h.01M517.7 217.5h.01M520.6 217.5h.01M523.3 217.5h.01M525.8 217.5h.01M528.2 217.5h.01M530.4 217.5h.01M532.5 217.5h.01M534.5 217.5h.01M536.4 217.5h.01M538.3 217.5h.01M540 217.5h.01M541.7 217.5h.01M543.2 217.5h.01M544.8 185.3h.01M546.3 183.8h.01M547.7 182.5h.01M549 181.1h.01M550.4 179.9h.01M551.6 178.6h.01M552.9 177.4h.01M554.1 176.3h.01M555.3 175.2h.01M556.4 174.1h.01M557.5 173.1h.01M558.6 172.1h.01M559.6 171.1h.01M560.6 170.2h.01M561.6 169.3h.01M562.6 168.5h.01M563.5 167.7h.01M564.4 167h.01M565.3 166.3h.01M566.2 165.7h.01M567.1 165.1h.01M567.9 164.4h.01M568.7 163.9h.01M569.5 163.3h.01M570.3 162.7h.01M571.1 162.2h.01M571.8 161.7h.01M573.3 160.7h.01M574.7 159.9h.01M576.1 159h.01M577.4 158.3h.01M578.7 157.6h.01M579.9 156.9h.01M581.2 156.3h.01M582.3 155.7h.01M583.4 155.2h.01M584.5 154.7h.01M585.6 154.3h.01M586.7 153.8h.01M587.7 153.4h.01M588.7 153.1h.01M589.6 152.7h.01M590.6 152.4h.01M591.5 152.1h.01M592.4 151.8h.01M593.3 151.6h.01M594.5 151.2h.01M595.8 151.1h.01M597 151.1h.01M598.1 151.1h.01M599.3 151.1h.01M600.4 151.1h.01M601.4 151.2h.01M602.5 151.2h.01M603.5 151.3h.01M604.5 151.4h.01M605.5 151.5h.01M606.4 151.5h.01M607.3 151.5h.01M608.5 151.5h.01M609.7 151.5h.01M610.8 151.6h.01M611.9 151.6h.01M612.9 151.7h.01M614 151.8h.01M615 152h.01M616 152.1h.01M616.9 152.2h.01M617.9 152.4h.01M618.8 152.5h.01M619.7 152.7h.01M620.8 152.9h.01M621.8 153.2h.01M622.8 153.4h.01M623.8 153.6h.01M624.8 153.9h.01M625.8 154.2h.01M626.7 154.4h.01M627.6 154.7h.01M628.5 155h.01M629.4 155.3h.01M630.4 155.6h.01M631.4 156h.01M632.4 156.3h.01M633.3 156.7h.01M634.2 157h.01M635.1 157.4h.01M636 157.8h.01M636.9 158.1h.01M637.7 158.5h.01M638.7 158.9h.01M639.6 159.3h.01M640.5 159.7h.01M641.4 160.1h.01M642.3 160.5h.01M643.2 160.9h.01M644 161.3h.01M644.8 161.7h.01M645.7 162.1h.01M646.6 162.6h.01M647.5 163h.01M648.4 163.4h.01M649.2 163.8h.01M650 164.3h.01M650.9 164.7h.01M651.8 165h.01M652.7 165.4h.01M653.5 165.8h.01M654.3 166.2h.01M655.2 166.6h.01M656.1 166.9h.01M657 167.3h.01M657.8 167.7h.01M658.7 168.1h.01M659.6 168.5h.01M660.4 168.8h.01M661.3 169.2h.01M662.1 169.6h.01M663 169.9h.01M663.9 170.3h.01M664.7 170.7h.01M665.6 171h.01M666.5 171.4h.01M667.3 171.7h.01M668.2 172.1h.01M669 172.4h.01M669.9 172.7h.01M670.8 173.1h.01M670.9 173.1h.01" fill="none" stroke="#0000ff" stroke-width="7.2" stroke-linecap="square"/>
<polyline points="417.6,217.5 444.6,217.5 460.5,217.5 471.7,217.5 480.4,217.5 487.5,217.5 493.5,217.5 498.8,217.5 503.4,217.5 507.5,217.5 511.2,217.5 514.6,217.5 517.7,217.5 520.6,217.5 523.3,217.5 525.8,217.5 528.2,217.5 530.4,217.5 532.5,217.5 534.5,217.5 536.4,217.5 538.3,217.5 540,217.5 541.7,217.5 543.2,217.5 544.8,138.3 546.3,137.6 547.7,136.9 549,136.2 550.4,135.7 551.6,135.1 552.9,134.6 554.1,134.2 555.3,133.7 556.4,133.4 557.5,133 558.6,132.7 559.6,132.4 560.6,132.1 561.6,131.8 562.6,131.6 563.5,131.4 564.4,131.1 565.3,131 566.2,130.8 567.1,130.6 567.9,130.5 568.7,130.3 569.5,130.2 570.3,130.1 571.1,130 571.8,129.9 572.6,129.8 573.3,129.8 574,129.7 574.7,129.6 575.4,129.6 576.1,129.5 576.8,129.5 577.4,129.5 578.1,129.4 578.7,129.4 579.3,129.4 579.9,129.4 580.6,129.4 581.2,129.4 581.7,129.4 582.3,129.4 582.9,129.4 583.4,129.4 584,129.4 584.5,129.4 585.1,129.4 585.6,129.5 586.1,129.5 586.7,129.5 587.2,129.6 587.7,129.6 588.7,129.7 589.6,129.7 590.6,129.8 591.5,129.9 592.4,130 593.3,130.1 594.1,130.2 595,130.4 595.8,130.5 596.6,130.6 597.4,130.7 598.1,130.9 598.9,131 599.6,131.1 600.4,131.3 601.1,131.4 601.8,131.6 602.5,131.7 603.2,131.8 603.8,132 604.5,132.1 605.1,132.3 605.8,132.4 606.4,132.6 607,132.8 607.6,132.9 608.2,133.1 608.8,133.2 609.4,133.4 609.9,133.5 610.5,133.7 611.1,133.8 611.6,134 612.1,134.2 612.7,134.3 613.2,134.5 613.7,134.6 614.2,134.8 614.7,134.9 615.2,135.1 615.7,135.3 616.2,135.4 616.7,135.6 617.4,135.8 618.1,136 618.8,136.3 619.4,136.5 620.1,136.7 620.8,137 621.4,137.2 622,137.4 622.6,137.7 623.2,137.9 623.8,138.2 624.4,138.4 625,138.6 625.6,138.9 626.2,139.1 626.7,139.4 627.3,139.6 627.8,139.9 628.3,140.1 628.9,140.4 629.4,140.6 629.9,140.9 630.4,141.2 630.9,141.4 631.4,141.7 631.9,142 632.4,142.2 632.8,142.5 633.3,142.8 633.8,143.1 634.2,143.4 634.7,143.6 635.1,143.9 635.6,144.2 636,144.5 636.4,144.8 636.9,145.1 637.3,145.4 637.7,145.7 638.1,146 638.5,146.3 638.9,146.6 639.3,146.9 639.7,147.2 640.1,147.5 640.7,147.9 641.2,148.3 641.7,148.8 642.2,149.2 642.7,149.6 643.2,150 643.6,150.4 644.1,150.9 644.6,151.3 645,151.7 645.5,152.1 645.9,152.6 646.4,153 646.8,153.4 647.3,153.8 647.7,154.3 648.1,154.7 648.6,155.1 649,155.5 649.4,155.9 649.8,156.3 650.2,156.7 650.6,157.1 651,157.5 651.4,157.9 651.8,158.3 652.2,158.7 652.6,159.1 652.9,159.4 653.3,159.8 653.7,160.2 654,160.5 654.4,160.9 654.8,161.2 655.2,161.7 655.7,162.1 656.1,162.5 656.5,162.9 657,163.3 657.4,163.7 657.8,164.1 658.2,164.5 658.6,164.9 659,165.2 659.4,165.6 659.8,165.9 660.2,166.2 660.6,166.6 661.1,166.9 661.5,167.3 662,167.7 662.4,168 662.9,168.3 663.3,168.6 663.7,168.9 664.1,169.2 664.6,169.5 665.1,169.8 665.5,170.1 666,170.4 666.5,170.6 666.9,170.9 667.4,171.1 667.9,171.3 668.4,171.5 668.9,171.7 669.4,171.9 669.9,172 670.5,172.1 670.9,172.2" fill="none" stroke="#0000ff" stroke-width="3.0" stroke-linejoin="round" stroke-linecap="square"/>
<path d="M414.6 214.5l6 6m-6 0l6 -6M441.6 214.5l6 6m-6 0l6 -6M457.5 214.5l6 6m-6 0l6 -6M468.7 214.5l6 6m-6 0l6 -6M477.4 214.5l6 6m-6 0l6 -6M484.5 214.5l6 6m-6 0l6 -6M490.5 214.5l6 6m-6 0l6 -6M495.8 214.5l6 6m-6 0l6 -6M500.4 214.5l6 6m-6 0l6 -6M504.5 214.5l6 6m-6 0l6 -6M508.2 214.5l6 6m-6 0l6 -6M511.6 214.5l6 6m-6 0l6 -6M514.7 214.5l6 6m-6 0l6 -6M517.6 214.5l6 6m-6 0l6 -6M520.3 214.5l6 6m-6 0l6 -6M522.8 214.5l6 6m-6 0l6 -6M525.2 214.5l6 6m-6 0l6 -6M527.4 214.5l6 6m-6 0l6 -6M529.5 214.5l6 6m-6 0l6 -6M531.5 214.5l6 6m-6 0l6 -6M533.4 214.5l6 6m-6 0l6 -6M535.3 214.5l6 6m-6 0l6 -6M537 214.5l6 6m-6 0l6 -6M538.7 214.5l6 6m-6 0l6 -6M540.2 214.5l6 6m-6 0l6 -6M541.8 135.3l6 6m-6 0l6 -6M543.3 134.6l6 6m-6 0l6 -6M544.7 133.9l6 6m-6 0l6 -6M546 133.2l6 6m-6 0l6 -6M547.4 132.7l6 6m-6 0l6 -6M548.6 132.1l6 6m-6 0l6 -6M549.9 131.6l6 6m-6 0l6 -6M551.1 131.2l6 6m-6 0l6 -6M552.3 130.7l6 6m-6 0l6 -6M553.4 130.4l6 6m-6 0l6 -6M554.5 130l6 6m-6 0l6 -6M555.6 129.7l6 6m-6 0l6 -6M556.6 129.4l6 6m-6 0l6 -6M557.6 129.1l6 6m-6 0l6 -6M558.6 128.8l6 6m-6 0l6 -6M559.6 128.6l6 6m-6 0l6 -6M560.5 128.4l6 6m-6 0l6 -6M561.4 128.1l6 6m-6 0l6 -6M562.3 128l6 6m-6 0l6 -6M564.1 127.6l6 6m-6 0l6 -6M565.7 127.3l6 6m-6 0l6 -6M567.3 127.1l6 6m-6 0l6 -6M568.8 126.9l6 6m-6 0l6 -6M570.3 126.8l6 6m-6 0l6 -6M571.7 126.6l6 6m-6 0l6 -6M573.1 126.5l6 6m-6 0l6 -6M574.4 126.5l6 6m-6 0l6 -6M575.7 126.4l6 6m-6 0l6 -6M576.9 126.4l6 6m-6 0l6 -6M578.2 126.4l6 6m-6 0l6 -6M579.3 126.4l6 6m-6 0l6 -6M580.4 126.4l6 6m-6 0l6 -6M581.5 126.4l6 6m-6 0l6 -6M582.6 126.5l6 6m-6 0l6 -6M583.7 126.5l6 6m-6 0l6 -6M584.7 126.6l6 6m-6 0l6 -6M585.7 126.7l6 6m-6 0l6 -6M586.6 126.7l6 6m-6 0l6 -6M587.6 126.8l6 6m-6 0l6 -6M588.5 126.9l6 6m-6 0l6 -6M589.4 127l6 6m-6 0l6 -6M590.7 127.2l6 6m-6 0l6 -6M592 127.4l6 6m-6 0l6 -6M593.2 127.5l6 6m-6 0l6 -6M594.4 127.7l6 6m-6 0l6 -6M595.5 127.9l6 6m-6 0l6 -6M596.6 128.1l6 6m-6 0l6 -6M597.7 128.3l6 6m-6 0l6 -6M598.8 128.6l6 6m-6 0l6 -6M599.8 128.8l6 6m-6 0l6 -6M600.8 129l6 6m-6 0l6 -6M601.8 129.2l6 6m-6 0l6 -6M602.8 129.4l6 6m-6 0l6 -6M603.7 129.7l6 6m-6 0l6 -6M604.6 129.9l6 6m-6 0l6 -6M605.5 130.1l6 6m-6 0l6 -6M606.4 130.4l6 6m-6 0l6 -6M607.5 130.7l6 6m-6 0l6 -6M608.6 131l6 6m-6 0l6 -6M609.7 131.3l6 6m-6 0l6 -6M610.7 131.6l6 6m-6 0l6 -6M611.7 131.9l6 6m-6 0l6 -6M612.7 132.3l6 6m-6 0l6 -6M613.7 132.6l6 6m-6 0l6 -6M614.6 132.9l6 6m-6 0l6 -6M615.5 133.2l6 6m-6 0l6 -6M616.4 133.5l6 6m-6 0l6 -6M617.3 133.8l6 6m-6 0l6 -6M618.2 134.1l6 6m-6 0l6 -6M619.2 134.5l6 6m-6 0l6 -6M620.2 134.9l6 6m-6 0l6 -6M621.2 135.3l6 6m-6 0l6 -6M622.2 135.7l6 6m-6 0l6 -6M623.2 136.1l6 6m-6 0l6 -6M624.1 136.5l6 6m-6 0l6 -6M625 137l6 6m-6 0l6 -6M625.9 137.4l6 6m-6 0l6 -6M626.7 137.8l6 6m-6 0l6 -6M627.6 138.3l6 6m-6 0l6 -6M628.4 138.7l6 6m-6 0l6 -6M629.2 139.1l6 6m-6 0l6 -6M630 139.6l6 6m-6 0l6 -6M630.8 140.1l6 6m-6 0l6 -6M631.7 140.6l6 6m-6 0l6 -6M632.6 141.2l6 6m-6 0l6 -6M633.4 141.8l6 6m-6 0l6 -6M634.3 142.4l6 6m-6 0l6 -6M635.1 143l6 6m-6 0l6 -6M635.9 143.6l6 6m-6 0l6 -6M636.7 144.2l6 6m-6 0l6 -6M637.5 144.8l6 6m-6 0l6 -6M638.3 145.5l6 6m-6 0l6 -6M639 146.1l6 6m-6 0l6 -6M639.8 146.7l6 6m-6 0l6 -6M640.5 147.3l6 6m-6 0l6 -6M641.2 148l6 6m-6 0l6 -6M641.9 148.6l6 6m-6 0l6 -6M642.6 149.3l6 6m-6 0l6 -6M643.3 149.9l6 6m-6 0l6 -6M643.9 150.5l6 6m-6 0l6 -6M644.6 151.2l6 6m-6 0l6 -6M645.4 151.9l6 6m-6 0l6 -6M646.1 152.6l6 6m-6 0l6 -6M646.8 153.3l6 6m-6 0l6 -6M647.5 154l6 6m-6 0l6 -6M648.2 154.7l6 6m-6 0l6 -6M648.9 155.4l6 6m-6 0l6 -6M649.6 156.1l6 6m-6 0l6 -6M650.2 156.7l6 6m-6 0l6 -6M650.9 157.4l6 6m-6 0l6 -6M651.6 158.1l6 6m-6 0l6 -6M652.3 158.8l6 6m-6 0l6 -6M653 159.4l6 6m-6 0l6 -6M653.7 160.1l6 6m-6 0l6 -6M654.4 160.7l6 6m-6 0l6 -6M655 161.3l6 6m-6 0l6 -6M655.8 162l6 6m-6 0l6 -6M656.5 162.6l6 6m-6 0l6 -6M657.2 163.2l6 6m-6 0l6 -6M657.9 163.8l6 6m-6 0l6 -6M658.7 164.4l6 6m-6 0l6 -6M659.4 165l6 6m-6 0l6 -6M660.1 165.5l6 6m-6 0l6 -6M660.9 166.1l6 6m-6 0l6 -6M661.7 166.6l6 6m-6 0l6 -6M662.5 167.1l6 6m-6 0l6 -6M663.3 167.5l6 6m-6 0l6 -6M664.2 168l6 6m-6 0l6 -6M665 168.4l6 6m-6 0l6 -6M665.9 168.7l6 6m-6 0l6 -6M666.8 169l6 6m-6 0l6 -6M667.7 169.2l6 6m-6 0l6 -6M667.9 169.2l6 6m-6 0l6 -6" fill="none" stroke="#0000ff" stroke-width="1.2"/>
<polyline points="417.6,201.3 444.6,185.1 460.5,173.3 471.7,159.3 480.4,143.2 487.5,129 493.5,116.5 498.8,105.3 503.4,94.9 507.5,85.2 511.2,76.5 514.6,69.2 517.7,62.8 520.6,57.3 523.3,52.9 525.8,49.2 528.2,46.2 530.4,43.8 532.5,41.8 534.5,40.4 536.4,39.5 538.3,39 540,38.8 541.7,38.8 543.2,38.7 544.8,38.9 546.3,39.2 547.7,39.7 549,40.3 550.4,41 551.6,41.9 552.9,42.7 554.1,43.7 555.3,44.7 556.4,45.8 557.5,46.9 558.6,48 559.6,49.1 560.6,50.4 561.6,51.7 562.6,53 563.5,54.3 564.4,55.6 565.3,56.9 566.2,58.2 567.1,59.5 567.9,60.7 568.7,62 569.5,63.2 570.3,64.5 571.1,65.7 571.8,66.9 572.6,67.9 573.3,68.9 574,69.8 574.7,70.7 575.4,71.6 576.1,72.5 576.8,73.3 577.4,74.1 578.1,74.9 578.7,75.6 579.3,76.4 579.9,77.1 580.6,77.7 581.2,78.4 581.7,79 582.3,79.5 582.9,80.1 583.4,80.6 584,81.1 584.5,81.5 585.1,82 585.6,82.4 586.1,82.9 586.7,83.3 587.2,83.7 587.7,84 588.2,84.4 588.7,84.8 589.1,85.2 589.6,85.6 590.1,86 590.6,86.3 591,86.7 591.5,87.1 591.9,87.5 592.4,87.9 592.8,88.3 593.3,88.7 593.7,89.1 594.1,89.5 594.5,89.9 595,90.3 595.4,90.6 595.8,91 596.2,91.4 596.6,91.8 597,92.2 597.4,92.5 597.8,92.9 598.1,93.3 598.5,93.6 598.9,94 599.3,94.4 599.6,94.7 600,95 600.7,95.7 601.4,96.4 602.1,97 602.8,97.6 603.5,98.1 604.2,98.7 604.8,99.2 605.5,99.7 606.1,100.2 606.7,100.6 607.3,101.1 607.9,101.5 608.5,101.9 609.1,102.3 609.7,102.7 610.2,103.1 610.8,103.6 611.3,104 611.9,104.4 612.4,104.7 612.9,105.1 613.5,105.5 614,105.8 614.5,106.2 615,106.5 615.5,106.9 616,107.2 616.5,107.5 616.9,107.8 617.4,108.1 617.9,108.4 618.3,108.7 618.8,109 619.2,109.3 619.7,109.6 620.1,109.9 620.5,110.2 621,110.4 621.4,110.7 621.8,111 622.4,111.4 623,111.8 623.6,112.2 624.2,112.6 624.8,113 625.4,113.4 626,113.8 626.5,114.2 627.1,114.6 627.6,115 628.2,115.4 628.7,115.8 629.2,116.2 629.7,116.6 630.2,117 630.7,117.4 631.2,117.8 631.7,118.1 632.2,118.5 632.7,118.9 633.1,119.3 633.6,119.7 634.1,120.1 634.5,120.4 635,120.8 635.4,121.2 635.9,121.6 636.3,122 636.7,122.4 637.2,122.8 637.6,123.2 638,123.6 638.4,123.9 638.8,124.3 639.2,124.7 639.6,125.1 640,125.5 640.4,125.9 640.8,126.3 641.2,126.7 641.5,127.1 641.9,127.5 642.3,127.9 642.7,128.3 643,128.6 643.4,129 643.8,129.4 644.1,129.8 644.5,130.2 644.8,130.6 645.2,131 645.5,131.4 645.8,131.8 646.2,132.2 646.5,132.6 646.8,133 647.2,133.4 647.5,133.8 647.8,134.2 648.1,134.6 648.5,135 648.8,135.4 649.1,135.8 649.4,136.2 649.7,136.5 650.1,137.1 650.5,137.6 650.9,138.1 651.3,138.7 651.7,139.2 652.1,139.7 652.5,140.2 652.8,140.8 653.2,141.3 653.6,141.8 654,142.3 654.3,142.9 654.7,143.4 655,143.9 655.4,144.4 655.7,145 656.1,145.5 656.4,146 656.8,146.5 657.1,147 657.5,147.5 657.8,148 658.1,148.5 658.5,148.9 658.8,149.4 659.1,149.8 659.4,150.3 659.7,150.7 660.1,151.1 660.4,151.6 660.7,152 661,152.4 661.4,152.8 661.7,153.3 662.1,153.8 662.5,154.3 662.9,154.8 663.2,155.3 663.6,155.8 663.9,156.2 664.1,156.6 664.4,157.1 664.7,157.5 665,157.9 665.3,158.4 665.5,158.9 665.8,159.3 666.1,159.8 666.3,160.2 666.6,160.7 666.9,161.1 667.2,161.6 667.5,162.1 667.8,162.6 668.2,163 668.5,163.4 669,163.8 669.5,164 670,164 670.5,163.7 670.9,163.2" fill="none" stroke="#008000" stroke-width="3.0" stroke-linejoin="round" stroke-linecap="square"/>
<path d="M417.6 201.3h0M444.6 185.1h0M460.5 173.3h0M471.7 159.3h0M480.4 143.2h0M487.5 129h0M493.5 116.5h0M498.8 105.3h0M503.4 94.9h0M507.5 85.2h0M511.2 76.5h0M514.6 69.2h0M517.7 62.8h0M520.6 57.3h0M523.3 52.9h0M525.8 49.2h0M528.2 46.2h0M530.4 43.8h0M532.5 41.8h0M534.5 40.4h0M536.4 39.5h0M538.3 39h0M540 38.8h0M541.7 38.8h0M543.2 38.7h0M544.8 38.9h0M546.3 39.2h0M547.7 39.7h0M549 40.3h0M550.4 41h0M551.6 41.9h0M552.9 42.7h0M554.1 43.7h0M555.3 44.7h0M556.4 45.8h0M557.5 46.9h0M558.6 48h0M559.6 49.1h0M560.6 50.4h0M561.6 51.7h0M562.6 53h0M563.5 54.3h0M564.4 55.6h0M565.3 56.9h0M566.2 58.2h0M567.1 59.5h0M567.9 60.7h0M568.7 62h0M569.5 63.2h0M570.3 64.5h0M571.1 65.7h0M571.8 66.9h0M572.6 67.9h0M573.3 68.9h0M574 69.8h0M574.7 70.7h0M575.4 71.6h0M576.1 72.5h0M576.8 73.3h0M577.4 74.1h0M578.1 74.9h0M578.7 75.6h0M579.3 76.4h0M579.9 77.1h0M581.2 78.4h0M582.3 79.5h0M583.4 80.6h0M584.5 81.5h0M585.6 82.4h0M586.7 83.3h0M587.7 84h0M588.7 84.8h0M589.6 85.6h0M590.6 86.3h0M591.5 87.1h0M592.4 87.9h0M593.3 88.7h0M594.1 89.5h0M595 90.3h0M595.8 91h0M596.6 91.8h0M597.4 92.5h0M598.1 93.3h0M598.9 94h0M599.6 94.7h0M600.4 95.4h0M601.1 96h0M601.8 96.7h0M602.5 97.3h0M603.5 98.1h0M604.5 98.9h0M605.5 99.7h0M606.4 100.4h0M607.3 101.1h0M608.2 101.7h0M609.1 102.3h0M609.9 102.9h0M610.8 103.6h0M611.6 104.2h0M612.4 104.7h0M613.2 105.3h0M614 105.8h0M614.7 106.4h0M615.7 107h0M616.7 107.7h0M617.6 108.3h0M618.5 108.9h0M619.4 109.5h0M620.3 110h0M621.2 110.6h0M622 111.1h0M622.8 111.7h0M623.6 112.2h0M624.4 112.7h0M625.2 113.3h0M626 113.8h0M626.7 114.3h0M627.4 114.9h0M628.3 115.5h0M629.2 116.2h0M630.1 116.9h0M630.9 117.5h0M631.7 118.1h0M632.5 118.8h0M633.3 119.4h0M634.1 120.1h0M634.8 120.7h0M635.6 121.4h0M636.3 122h0M637 122.6h0M637.7 123.3h0M638.4 123.9h0M639.1 124.6h0M639.7 125.2h0M640.4 125.9h0M641 126.6h0M641.7 127.2h0M642.3 127.9h0M643 128.6h0M643.8 129.4h0M644.5 130.2h0M645.2 131h0M645.8 131.8h0M646.5 132.6h0M647.2 133.4h0M647.8 134.2h0M648.5 135h0M649.1 135.8h0M649.7 136.5h0M650.3 137.3h0M650.9 138.1h0M651.5 138.9h0M652.1 139.7h0M652.7 140.5h0M653.2 141.3h0M653.8 142.1h0M654.3 142.9h0M654.9 143.7h0M655.4 144.4h0M655.9 145.2h0M656.4 146h0M657 146.8h0M657.5 147.5h0M658 148.3h0M658.6 149.2h0M659.2 150h0M659.7 150.7h0M660.3 151.4h0M660.9 152.3h0M661.5 153h0M662.1 153.8h0M662.7 154.6h0M663.3 155.4h0M663.9 156.2h0M664.4 157.1h0M664.9 157.8h0M665.4 158.6h0M665.9 159.4h0M666.3 160.2h0M666.8 161h0M667.3 161.8h0M667.8 162.6h0M668.4 163.3h0M669.2 163.9h0M670.1 163.9h0M670.8 163.3h0M670.9 163.2h0" fill="none" stroke="#008000" stroke-width="7.4" stroke-linecap="round"/>
<polyline points="417.6,217.2 444.6,217 460.5,216 471.7,214.4 480.4,212.7 487.5,211 493.5,209.5 498.8,208.2 503.4,206.9 507.5,205.6 511.2,204.2 514.6,202.8 517.7,201.4 520.6,199.9 523.3,198.3 525.8,196.6 528.2,195.1 530.4,193.5 532.5,191.9 534.5,190.4 536.4,189 538.3,187.6 540,186.2 541.7,184.9 543.2,183.6 544.8,182.4 546.3,181.2 547.7,180.1 549,179 550.4,177.9 551.6,176.9 552.9,175.9 554.1,175 555.3,174 556.4,173.2 557.5,172.3 558.6,171.5 559.6,170.7 560.6,169.9 561.6,169.2 562.6,168.5 563.5,167.8 564.4,167.2 565.3,166.5 566.2,165.9 567.1,165.4 567.9,164.8 568.7,164.3 569.5,163.7 570.3,163.2 571.1,162.5 571.8,161.8 572.6,161.2 573.3,160.6 574,160 574.7,159.5 575.4,158.9 576.1,158.4 576.8,157.9 577.4,157.4 578.1,156.9 578.7,156.4 579.3,156 579.9,155.5 580.6,155.1 581.2,154.7 581.7,154.3 582.3,153.9 582.9,153.6 583.4,153.3 584,153.1 584.5,152.9 585.1,152.7 585.6,152.5 586.1,152.3 586.7,152.1 587.2,152 587.7,151.8 588.2,151.6 588.7,151.5 589.1,151.3 590.1,151.1 591,150.8 591.9,150.6 592.8,150.4 593.7,150.2 594.5,150 595.4,149.8 596.2,149.7 597,149.6 597.8,149.4 598.5,149.3 599.3,149.2 600,149.1 600.7,149.1 601.4,149 602.1,148.9 602.8,148.9 603.5,148.8 604.2,148.8 604.8,148.8 605.5,148.8 606.1,148.8 606.7,148.8 607.3,148.8 607.9,148.8 608.5,148.8 609.1,148.8 609.7,148.8 610.2,148.8 610.8,148.9 611.3,148.9 611.9,148.9 612.4,149 612.9,149 613.5,149.1 614,149.1 614.5,149.2 615,149.3 615.7,149.4 616.5,149.5 617.2,149.6 617.9,149.7 618.5,149.8 619.2,149.9 619.9,150 620.5,150.2 621.2,150.4 621.8,150.6 622.4,150.7 623,150.9 623.6,151.1 624.2,151.3 624.8,151.5 625.4,151.7 626,151.9 626.5,152.1 627.1,152.3 627.6,152.5 628.2,152.7 628.7,152.9 629.2,153.1 629.7,153.3 630.2,153.5 630.7,153.7 631.2,153.9 631.7,154.1 632.2,154.3 632.7,154.5 633.1,154.7 633.6,154.9 634.1,155.1 634.7,155.4 635.3,155.7 635.9,155.9 636.4,156.2 637,156.5 637.6,156.8 638.1,157 638.7,157.3 639.2,157.6 639.7,157.8 640.3,158.1 640.8,158.3 641.3,158.6 641.8,158.8 642.3,159 642.8,159.2 643.3,159.5 643.8,159.7 644.2,159.9 644.7,160.1 645.2,160.4 645.6,160.6 646.1,160.8 646.6,161.1 647.2,161.4 647.7,161.6 648.2,161.9 648.8,162.1 649.3,162.4 649.8,162.7 650.3,162.9 650.8,163.2 651.3,163.4 651.8,163.7 652.3,163.9 652.7,164.1 653.2,164.4 653.7,164.6 654.1,164.8 654.6,165.1 655,165.3 655.6,165.6 656.1,165.8 656.6,166.1 657.1,166.4 657.6,166.6 658.1,166.9 658.6,167.1 659.1,167.4 659.6,167.6 660.1,167.8 660.5,168.1 661,168.3 661.4,168.5 661.9,168.8 662.4,169 662.9,169.3 663.4,169.5 663.9,169.8 664.4,170 664.9,170.2 665.4,170.5 665.9,170.7 666.3,170.9 666.8,171.2 667.3,171.4 667.7,171.6 668.2,171.8 668.7,172.1 669.2,172.3 669.7,172.5 670.2,172.7 670.7,172.9 670.9,173" fill="none" stroke="#008000" stroke-width="3.0" stroke-linejoin="round" stroke-linecap="square"/>
<path d="M417.6 217.2h.01M444.6 217h.01M460.5 216h.01M471.7 214.4h.01M480.4 212.7h.01M487.5 211h.01M493.5 209.5h.01M498.8 208.2h.01M503.4 206.9h.01M507.5 205.6h.01M511.2 204.2h.01M514.6 202.8h.01M517.7 201.4h.01M520.6 199.9h.01M523.3 198.3h.01M525.8 196.6h.01M528.2 195.1h.01M530.4 193.5h.01M532.5 191.9h.01M534.5 190.4h.01M536.4 189h.01M538.3 187.6h.01M540 186.2h.01M541.7 184.9h.01M543.2 183.6h.01M544.8 182.4h.01M546.3 181.2h.01M547.7 180.1h.01M549 179h.01M550.4 177.9h.01M551.6 176.9h.01M552.9 175.9h.01M554.1 175h.01M555.3 174h.01M556.4 173.2h.01M557.5 172.3h.01M558.6 171.5h.01M559.6 170.7h.01M560.6 169.9h.01M561.6 169.2h.01M562.6 168.5h.01M563.5 167.8h.01M564.4 167.2h.01M565.3 166.5h.01M566.2 165.9h.01M567.1 165.4h.01M567.9 164.8h.01M568.7 164.3h.01M569.5 163.7h.01M570.3 163.2h.01M571.1 162.5h.01M571.8 161.8h.01M572.6 161.2h.01M573.3 160.6h.01M574 160h.01M574.7 159.5h.01M576.1 158.4h.01M577.4 157.4h.01M578.7 156.4h.01M579.9 155.5h.01M581.2 154.7h.01M582.3 153.9h.01M583.4 153.3h.01M584.5 152.9h.01M585.6 152.5h.01M586.7 152.1h.01M587.7 151.8h.01M588.7 151.5h.01M589.6 151.2h.01M590.6 150.9h.01M591.5 150.7h.01M592.4 150.5h.01M593.3 150.3h.01M594.5 150h.01M595.8 149.8h.01M597 149.6h.01M598.1 149.4h.01M599.3 149.2h.01M600.4 149.1h.01M601.4 149h.01M602.5 148.9h.01M603.5 148.8h.01M604.5 148.8h.01M605.5 148.8h.01M606.4 148.8h.01M607.3 148.8h.01M608.5 148.8h.01M609.7 148.8h.01M610.8 148.9h.01M611.9 148.9h.01M612.9 149h.01M614 149.1h.01M615 149.3h.01M616 149.4h.01M616.9 149.5h.01M617.9 149.7h.01M618.8 149.8h.01M619.7 150h.01M620.8 150.3h.01M621.8 150.6h.01M622.8 150.9h.01M623.8 151.2h.01M624.8 151.5h.01M625.8 151.8h.01M626.7 152.1h.01M627.6 152.5h.01M628.5 152.8h.01M629.4 153.1h.01M630.2 153.5h.01M631.2 153.9h.01M632.2 154.3h.01M633.1 154.7h.01M634.1 155.1h.01M635 155.5h.01M635.9 155.9h.01M636.7 156.4h.01M637.6 156.8h.01M638.4 157.2h.01M639.2 157.6h.01M640.1 158h.01M641 158.4h.01M641.9 158.8h.01M642.8 159.2h.01M643.6 159.6h.01M644.5 160h.01M645.4 160.5h.01M646.3 160.9h.01M647.2 161.4h.01M648 161.8h.01M648.9 162.2h.01M649.7 162.6h.01M650.5 163h.01M651.4 163.5h.01M652.3 163.9h.01M653.1 164.3h.01M654 164.8h.01M654.8 165.2h.01M655.7 165.6h.01M656.5 166.1h.01M657.4 166.5h.01M658.2 166.9h.01M659 167.3h.01M659.9 167.8h.01M660.8 168.2h.01M661.6 168.6h.01M662.4 169h.01M663.3 169.5h.01M664.1 169.9h.01M665 170.3h.01M665.8 170.7h.01M666.7 171.1h.01M667.5 171.5h.01M668.4 171.9h.01M669.2 172.3h.01M670.1 172.7h.01M670.9 173h.01" fill="none" stroke="#008000" stroke-width="7.2" stroke-linecap="square"/>
<polyline points="417.6,207.6 444.6,199.9 460.5,193.1 471.7,187.3 480.4,182.3 487.5,177.9 493.5,174 498.8,170.5 503.4,167.4 507.5,164.5 511.2,161.8 514.6,159.3 517.7,157 520.6,154.9 523.3,152.9 525.8,151 528.2,149.3 530.4,147.7 532.5,146.3 534.5,144.9 536.4,143.7 538.3,142.5 540,141.4 541.7,140.5 543.2,139.6 544.8,138.7 546.3,137.7 547.7,136.7 549,135.7 550.4,134.8 551.6,134 552.9,133.2 554.1,132.5 555.3,131.8 556.4,131.2 557.5,130.6 558.6,130 559.6,129.4 560.6,128.9 561.6,128.5 562.6,128.1 563.5,127.9 564.4,127.7 565.3,127.5 566.2,127.3 567.1,127.2 567.9,127 568.7,126.9 569.5,126.7 570.3,126.6 571.1,126.5 571.8,126.4 572.6,126.3 573.3,126.3 574,126.2 574.7,126.1 575.4,126.1 576.1,126 576.8,126 577.4,126 578.1,125.9 578.7,125.9 579.3,125.9 579.9,125.9 580.6,125.9 581.2,125.9 581.7,125.9 582.3,125.9 582.9,125.9 583.4,125.9 584,125.9 584.5,125.9 585.1,125.9 585.6,125.9 586.1,126 586.7,126 587.2,126 587.7,126.1 588.7,126.1 589.6,126.2 590.6,126.3 591.5,126.4 592.4,126.5 593.3,126.6 594.1,126.7 595,126.8 595.8,126.9 596.6,127 597.4,127.2 598.1,127.3 598.9,127.4 599.6,127.6 600.4,127.7 601.1,127.9 601.8,128.2 602.5,128.4 603.2,128.6 603.8,128.8 604.5,129 605.1,129.2 605.8,129.4 606.4,129.6 607,129.9 607.6,130.1 608.2,130.3 608.8,130.5 609.4,130.7 609.9,130.9 610.5,131.1 611.1,131.3 611.6,131.6 612.1,131.8 612.7,132 613.2,132.2 613.7,132.4 614.2,132.6 614.7,132.8 615.2,133 615.7,133.2 616.2,133.4 616.7,133.6 617.2,133.8 617.6,134 618.1,134.2 618.8,134.5 619.4,134.8 620.1,135.1 620.8,135.4 621.4,135.7 622,136 622.6,136.3 623.2,136.6 623.8,136.9 624.4,137.2 625,137.5 625.6,137.8 626.2,138.1 626.7,138.4 627.3,138.7 627.8,139 628.3,139.3 628.9,139.5 629.4,139.8 629.9,140 630.4,140.3 630.9,140.6 631.4,140.8 631.9,141.1 632.4,141.4 632.8,141.6 633.3,141.9 633.8,142.2 634.2,142.5 634.7,142.8 635.1,143 635.6,143.3 636,143.6 636.4,143.9 636.9,144.2 637.3,144.5 637.7,144.8 638.1,145.1 638.5,145.4 638.9,145.7 639.3,146 639.7,146.3 640.1,146.6 640.5,147 641,147.4 641.5,147.8 642,148.2 642.5,148.7 643,149.1 643.5,149.5 644,150 644.5,150.4 644.9,150.8 645.4,151.3 645.8,151.7 646.3,152.2 646.7,152.6 647.2,153 647.6,153.5 648,153.9 648.5,154.3 648.9,154.7 649.3,155.2 649.7,155.6 650.1,156 650.5,156.4 650.9,156.8 651.3,157.2 651.7,157.6 652.1,158 652.5,158.4 652.8,158.8 653.2,159.2 653.6,159.6 654,159.9 654.3,160.3 654.7,160.7 655,161 655.4,161.4 655.8,161.8 656.3,162.2 656.7,162.6 657.1,163.1 657.5,163.5 658,163.8 658.4,164.2 658.8,164.6 659.2,165 659.6,165.3 660,165.7 660.4,166 660.8,166.4 661.1,166.7 661.6,167.1 662,167.4 662.5,167.8 662.9,168.1 663.4,168.4 663.8,168.7 664.2,169 664.6,169.3 665.1,169.6 665.6,169.9 666.1,170.2 666.5,170.5 667,170.7 667.5,171 668,171.2 668.5,171.4 669,171.6 669.5,171.8 670,172 670.5,172.1 670.9,172.2" fill="none" stroke="#008000" stroke-width="3.0" stroke-linejoin="round" stroke-linecap="square"/>
<path d="M414.6 204.6l6 6m-6 0l6 -6M441.6 196.9l6 6m-6 0l6 -6M457.5 190.1l6 6m-6 0l6 -6M468.7 184.3l6 6m-6 0l6 -6M477.4 179.3l6 6m-6 0l6 -6M484.5 174.9l6 6m-6 0l6 -6M490.5 171l6 6m-6 0l6 -6M495.8 167.5l6 6m-6 0l6 -6M500.4 164.4l6 6m-6 0l6 -6M504.5 161.5l6 6m-6 0l6 -6M508.2 158.8l6 6m-6 0l6 -6M511.6 156.3l6 6m-6 0l6 -6M514.7 154l6 6m-6 0l6 -6M517.6 151.9l6 6m-6 0l6 -6M520.3 149.9l6 6m-6 0l6 -6M522.8 148l6 6m-6 0l6 -6M525.2 146.3l6 6m-6 0l6 -6M527.4 144.7l6 6m-6 0l6 -6M529.5 143.3l6 6m-6 0l6 -6M531.5 141.9l6 6m-6 0l6 -6M533.4 140.7l6 6m-6 0l6 -6M535.3 139.5l6 6m-6 0l6 -6M537 138.4l6 6m-6 0l6 -6M538.7 137.5l6 6m-6 0l6 -6M540.2 136.6l6 6m-6 0l6 -6M541.8 135.7l6 6m-6 0l6 -6M543.3 134.7l6 6m-6 0l6 -6M544.7 133.7l6 6m-6 0l6 -6M546 132.7l6 6m-6 0l6 -6M547.4 131.8l6 6m-6 0l6 -6M548.6 131l6 6m-6 0l6 -6M549.9 130.2l6 6m-6 0l6 -6M551.1 129.5l6 6m-6 0l6 -6M552.3 128.8l6 6m-6 0l6 -6M553.4 128.2l6 6m-6 0l6 -6M554.5 127.6l6 6m-6 0l6 -6M555.6 127l6 6m-6 0l6 -6M556.6 126.4l6 6m-6 0l6 -6M557.6 125.9l6 6m-6 0l6 -6M558.6 125.5l6 6m-6 0l6 -6M559.6 125.1l6 6m-6 0l6 -6M560.5 124.9l6 6m-6 0l6 -6M561.4 124.7l6 6m-6 0l6 -6M562.3 124.5l6 6m-6 0l6 -6M564.1 124.2l6 6m-6 0l6 -6M565.7 123.9l6 6m-6 0l6 -6M567.3 123.6l6 6m-6 0l6 -6M568.8 123.4l6 6m-6 0l6 -6M570.3 123.3l6 6m-6 0l6 -6M571.7 123.1l6 6m-6 0l6 -6M573.1 123l6 6m-6 0l6 -6M574.4 123l6 6m-6 0l6 -6M575.7 122.9l6 6m-6 0l6 -6M576.9 122.9l6 6m-6 0l6 -6M578.2 122.9l6 6m-6 0l6 -6M579.3 122.9l6 6m-6 0l6 -6M580.4 122.9l6 6m-6 0l6 -6M581.5 122.9l6 6m-6 0l6 -6M582.6 122.9l6 6m-6 0l6 -6M583.7 123l6 6m-6 0l6 -6M584.7 123.1l6 6m-6 0l6 -6M585.7 123.1l6 6m-6 0l6 -6M586.6 123.2l6 6m-6 0l6 -6M587.6 123.3l6 6m-6 0l6 -6M588.5 123.4l6 6m-6 0l6 -6M589.4 123.5l6 6m-6 0l6 -6M590.7 123.6l6 6m-6 0l6 -6M592 123.8l6 6m-6 0l6 -6M593.2 124l6 6m-6 0l6 -6M594.4 124.2l6 6m-6 0l6 -6M595.5 124.4l6 6m-6 0l6 -6M596.6 124.6l6 6m-6 0l6 -6M597.7 124.8l6 6m-6 0l6 -6M598.8 125.2l6 6m-6 0l6 -6M599.8 125.5l6 6m-6 0l6 -6M600.8 125.8l6 6m-6 0l6 -6M601.8 126.1l6 6m-6 0l6 -6M602.8 126.4l6 6m-6 0l6 -6M603.7 126.8l6 6m-6 0l6 -6M604.6 127.1l6 6m-6 0l6 -6M605.5 127.4l6 6m-6 0l6 -6M606.4 127.7l6 6m-6 0l6 -6M607.2 128l6 6m-6 0l6 -6M608.3 128.4l6 6m-6 0l6 -6M609.4 128.9l6 6m-6 0l6 -6M610.5 129.3l6 6m-6 0l6 -6M611.5 129.7l6 6m-6 0l6 -6M612.5 130.1l6 6m-6 0l6 -6M613.5 130.5l6 6m-6 0l6 -6M614.4 130.9l6 6m-6 0l6 -6M615.3 131.3l6 6m-6 0l6 -6M616.2 131.7l6 6m-6 0l6 -6M617.1 132.1l6 6m-6 0l6 -6M618 132.5l6 6m-6 0l6 -6M618.8 132.9l6 6m-6 0l6 -6M619.6 133.3l6 6m-6 0l6 -6M620.4 133.7l6 6m-6 0l6 -6M621.4 134.2l6 6m-6 0l6 -6M622.4 134.7l6 6m-6 0l6 -6M623.3 135.2l6 6m-6 0l6 -6M624.3 135.7l6 6m-6 0l6 -6M625.2 136.2l6 6m-6 0l6 -6M626 136.6l6 6m-6 0l6 -6M626.9 137l6 6m-6 0l6 -6M627.7 137.5l6 6m-6 0l6 -6M628.6 137.9l6 6m-6 0l6 -6M629.4 138.4l6 6m-6 0l6 -6M630.1 138.8l6 6m-6 0l6 -6M630.9 139.3l6 6m-6 0l6 -6M631.8 139.8l6 6m-6 0l6 -6M632.7 140.4l6 6m-6 0l6 -6M633.6 141l6 6m-6 0l6 -6M634.4 141.6l6 6m-6 0l6 -6M635.3 142.2l6 6m-6 0l6 -6M636.1 142.8l6 6m-6 0l6 -6M636.9 143.4l6 6m-6 0l6 -6M637.7 144.1l6 6m-6 0l6 -6M638.4 144.7l6 6m-6 0l6 -6M639.2 145.3l6 6m-6 0l6 -6M639.9 146l6 6m-6 0l6 -6M640.6 146.6l6 6m-6 0l6 -6M641.3 147.3l6 6m-6 0l6 -6M642 148l6 6m-6 0l6 -6M642.7 148.6l6 6m-6 0l6 -6M643.4 149.3l6 6m-6 0l6 -6M644.1 149.9l6 6m-6 0l6 -6M644.7 150.6l6 6m-6 0l6 -6M645.4 151.2l6 6m-6 0l6 -6M646.1 152l6 6m-6 0l6 -6M646.8 152.7l6 6m-6 0l6 -6M647.5 153.4l6 6m-6 0l6 -6M648.2 154.1l6 6m-6 0l6 -6M648.9 154.8l6 6m-6 0l6 -6M649.6 155.5l6 6m-6 0l6 -6M650.2 156.2l6 6m-6 0l6 -6M650.9 156.8l6 6m-6 0l6 -6M651.5 157.5l6 6m-6 0l6 -6M652.2 158.2l6 6m-6 0l6 -6M652.9 158.9l6 6m-6 0l6 -6M653.6 159.6l6 6m-6 0l6 -6M654.3 160.2l6 6m-6 0l6 -6M655 160.8l6 6m-6 0l6 -6M655.7 161.5l6 6m-6 0l6 -6M656.4 162.2l6 6m-6 0l6 -6M657.1 162.8l6 6m-6 0l6 -6M657.8 163.4l6 6m-6 0l6 -6M658.6 164.1l6 6m-6 0l6 -6M659.3 164.7l6 6m-6 0l6 -6M660.1 165.2l6 6m-6 0l6 -6M660.9 165.8l6 6m-6 0l6 -6M661.6 166.3l6 6m-6 0l6 -6M662.4 166.8l6 6m-6 0l6 -6M663.2 167.3l6 6m-6 0l6 -6M664 167.7l6 6m-6 0l6 -6M664.8 168.2l6 6m-6 0l6 -6M665.7 168.5l6 6m-6 0l6 -6M666.6 168.8l6 6m-6 0l6 -6M667.5 169.1l6 6m-6 0l6 -6M667.9 169.2l6 6m-6 0l6 -6" fill="none" stroke="#008000" stroke-width="1.2"/>
<polyline points="417.6,201.3 444.6,183.9 460.5,169.1 471.7,150.8 480.4,133.9 487.5,119.6 493.5,107 498.8,95.5 503.4,84.8 507.5,75.7 511.2,68.2 514.6,61.8 517.7,56.3 520.6,51.6 523.3,47.7 525.8,44.5 528.2,42 530.4,40 532.5,38.5 534.5,37.4 536.4,36.5 538.3,35.9 540,35.5 541.7,35.4 543.2,35.6 544.8,36 546.3,36.5 547.7,37.2 549,37.9 550.4,38.8 551.6,39.7 552.9,40.7 554.1,41.7 555.3,42.7 556.4,43.7 557.5,44.8 558.6,45.8 559.6,46.9 560.6,48 561.6,49.1 562.6,50.2 563.5,51.3 564.4,52.4 565.3,53.6 566.2,54.7 567.1,55.8 567.9,56.9 568.7,58 569.5,59.1 570.3,60.1 571.1,61.2 571.8,62.2 572.6,63.4 573.3,64.5 574,65.6 574.7,66.7 575.4,67.7 576.1,68.8 576.8,69.8 577.4,70.8 578.1,71.7 578.7,72.7 579.3,73.6 579.9,74.4 580.6,75.3 581.2,76.1 581.7,76.9 582.3,77.6 582.9,78.3 583.4,79 584,79.6 584.5,80.2 585.1,80.8 585.6,81.3 586.1,81.8 586.7,82.3 587.2,82.8 587.7,83.3 588.2,83.7 588.7,84.2 589.1,84.6 589.6,85 590.1,85.5 590.6,85.9 591,86.4 591.5,86.9 591.9,87.4 592.4,87.9 592.8,88.4 593.3,88.9 593.7,89.4 594.1,89.9 594.5,90.4 595,90.9 595.4,91.4 595.8,91.9 596.2,92.4 596.6,92.9 597,93.4 597.4,93.8 597.8,94.3 598.1,94.7 598.5,95.2 598.9,95.6 599.3,96 599.6,96.5 600,96.9 600.4,97.2 601.1,97.9 601.8,98.6 602.5,99.2 603.2,99.8 603.8,100.4 604.5,100.9 605.1,101.4 605.8,101.9 606.4,102.4 607,102.9 607.6,103.3 608.2,103.8 608.8,104.2 609.4,104.6 609.9,105 610.5,105.4 611.1,105.7 611.6,106.1 612.1,106.4 612.7,106.8 613.2,107.1 613.7,107.5 614.2,107.8 614.7,108.1 615.2,108.4 615.7,108.7 616.2,109 616.7,109.3 617.2,109.6 617.6,109.9 618.1,110.2 618.5,110.5 619,110.8 619.4,111.1 619.9,111.3 620.3,111.6 621,111.9 621.6,112.3 622.2,112.6 622.8,113 623.4,113.3 624,113.7 624.6,114 625.2,114.4 625.8,114.7 626.3,115 626.9,115.4 627.4,115.7 628,116.1 628.5,116.4 629,116.7 629.6,117.1 630.1,117.4 630.6,117.8 631.1,118.1 631.6,118.5 632,118.8 632.5,119.1 633,119.5 633.5,119.8 633.9,120.2 634.4,120.5 634.8,120.8 635.3,121.2 635.7,121.5 636.2,121.9 636.6,122.3 637,122.6 637.4,123 637.9,123.4 638.3,123.8 638.7,124.2 639.1,124.6 639.5,125 639.9,125.4 640.3,125.8 640.7,126.2 641,126.6 641.4,126.9 641.8,127.3 642.2,127.7 642.5,128.1 642.9,128.5 643.3,128.9 643.6,129.3 644,129.7 644.3,130.1 644.7,130.5 645,130.9 645.4,131.3 645.7,131.7 646.1,132.1 646.4,132.5 646.7,132.9 647.1,133.3 647.4,133.6 647.7,134 648,134.4 648.4,134.8 648.7,135.2 649,135.6 649.3,136 649.6,136.4 649.9,136.8 650.3,137.3 650.7,137.9 651.1,138.4 651.5,138.9 651.9,139.4 652.3,140 652.7,140.5 653,141 653.4,141.6 653.8,142.1 654.1,142.6 654.5,143.1 654.9,143.7 655.2,144.2 655.6,144.7 655.9,145.2 656.3,145.7 656.6,146.3 657,146.8 657.3,147.3 657.6,147.7 658,148.2 658.3,148.7 658.6,149.2 658.9,149.6 659.3,150.1 659.6,150.5 659.9,150.9 660.2,151.3 660.5,151.8 660.8,152.2 661.1,152.6 661.5,153 661.9,153.5 662.3,154 662.6,154.5 663,155 663.4,155.5 663.7,156 664,156.4 664.3,156.9 664.6,157.3 664.8,157.7 665.1,158.2 665.4,158.6 665.7,159.1 665.9,159.5 666.2,160 666.5,160.5 666.7,160.9 667,161.3 667.3,161.8 667.7,162.3 668,162.8 668.3,163.1 668.7,163.5 669.1,163.8 669.6,164 670.2,163.9 670.6,163.6 670.9,163.2" fill="none" stroke="#ff0000" stroke-width="3.0" stroke-linejoin="round" stroke-linecap="square"/>
<path d="M417.6 201.3h0M444.6 183.9h0M460.5 169.1h0M471.7 150.8h0M480.4 133.9h0M487.5 119.6h0M493.5 107h0M498.8 95.5h0M503.4 84.8h0M507.5 75.7h0M511.2 68.2h0M514.6 61.8h0M517.7 56.3h0M520.6 51.6h0M523.3 47.7h0M525.8 44.5h0M528.2 42h0M530.4 40h0M532.5 38.5h0M534.5 37.4h0M536.4 36.5h0M538.3 35.9h0M540 35.5h0M541.7 35.4h0M543.2 35.6h0M544.8 36h0M546.3 36.5h0M547.7 37.2h0M549 37.9h0M550.4 38.8h0M551.6 39.7h0M552.9 40.7h0M554.1 41.7h0M555.3 42.7h0M556.4 43.7h0M557.5 44.8h0M558.6 45.8h0M559.6 46.9h0M560.6 48h0M561.6 49.1h0M562.6 50.2h0M563.5 51.3h0M564.4 52.4h0M565.3 53.6h0M566.2 54.7h0M567.1 55.8h0M567.9 56.9h0M568.7 58h0M569.5 59.1h0M570.3 60.1h0M571.1 61.2h0M571.8 62.2h0M572.6 63.4h0M573.3 64.5h0M574 65.6h0M574.7 66.7h0M575.4 67.7h0M576.1 68.8h0M576.8 69.8h0M577.4 70.8h0M578.1 71.7h0M578.7 72.7h0M579.3 73.6h0M579.9 74.4h0M580.6 75.3h0M581.2 76.1h0M581.7 76.9h0M582.3 77.6h0M582.9 78.3h0M584 79.6h0M585.1 80.8h0M586.1 81.8h0M587.2 82.8h0M588.2 83.7h0M589.1 84.6h0M590.1 85.5h0M591 86.4h0M591.9 87.4h0M592.8 88.4h0M593.7 89.4h0M594.5 90.4h0M595.4 91.4h0M596.2 92.4h0M597 93.4h0M597.8 94.3h0M598.5 95.2h0M599.3 96h0M600 96.9h0M600.7 97.6h0M601.4 98.2h0M602.1 98.9h0M602.8 99.5h0M603.8 100.4h0M604.8 101.2h0M605.8 101.9h0M606.7 102.6h0M607.6 103.3h0M608.5 104h0M609.4 104.6h0M610.2 105.2h0M611.1 105.7h0M611.9 106.3h0M612.7 106.8h0M613.5 107.3h0M614.2 107.8h0M615.2 108.4h0M616.2 109h0M617.2 109.6h0M618.1 110.2h0M619 110.8h0M619.9 111.3h0M620.8 111.8h0M621.6 112.3h0M622.4 112.8h0M623.2 113.2h0M624 113.7h0M624.8 114.1h0M625.8 114.7h0M626.7 115.3h0M627.6 115.8h0M628.5 116.4h0M629.4 117h0M630.2 117.5h0M631.1 118.1h0M631.9 118.7h0M632.7 119.2h0M633.5 119.8h0M634.2 120.4h0M635 120.9h0M635.7 121.5h0M636.4 122.1h0M637.2 122.8h0M637.9 123.4h0M638.5 124.1h0M639.2 124.7h0M639.9 125.4h0M640.5 126h0M641.2 126.7h0M641.8 127.3h0M642.4 128h0M643.2 128.8h0M643.9 129.6h0M644.6 130.4h0M645.3 131.1h0M645.9 131.9h0M646.6 132.7h0M647.3 133.5h0M647.9 134.3h0M648.6 135.1h0M649.2 135.9h0M649.8 136.7h0M650.4 137.5h0M651 138.3h0M651.6 139.1h0M652.2 139.8h0M652.7 140.6h0M653.3 141.4h0M653.9 142.2h0M654.4 143h0M655 143.8h0M655.5 144.6h0M656 145.4h0M656.5 146.1h0M657 146.9h0M657.6 147.7h0M658.2 148.6h0M658.8 149.4h0M659.3 150.2h0M659.9 150.9h0M660.4 151.7h0M661.1 152.5h0M661.7 153.2h0M662.3 154h0M662.9 154.8h0M663.4 155.6h0M664 156.4h0M664.6 157.3h0M665.1 158.1h0M665.5 158.9h0M666 159.7h0M666.5 160.5h0M667 161.3h0M667.5 162.1h0M668.1 162.9h0M668.7 163.6h0M669.5 164h0M670.5 163.7h0M670.9 163.2h0" fill="none" stroke="#ff0000" stroke-width="7.4" stroke-linecap="round"/>
<polyline points="417.6,217.2 444.6,217 460.5,216 471.7,214.4 480.4,212.7 487.5,211 493.5,209.3 498.8,207.7 503.4,206 507.5,204.4 511.2,202.8 514.6,201.1 517.7,199.5 520.6,197.9 523.3,196.3 525.8,194.6 528.2,193.1 530.4,191.5 532.5,189.9 534.5,188.4 536.4,187 538.3,185.6 540,184.2 541.7,182.9 543.2,181.6 544.8,180.4 546.3,179.2 547.7,178.1 549,177 550.4,175.9 551.6,174.9 552.9,173.9 554.1,173 555.3,172 556.4,171.2 557.5,170.3 558.6,169.5 559.6,168.7 560.6,167.9 561.6,167.2 562.6,166.5 563.5,165.8 564.4,165.2 565.3,164.5 566.2,163.9 567.1,163.4 567.9,162.8 568.7,162.3 569.5,161.7 570.3,161.2 571.1,160.8 571.8,160.3 572.6,159.9 573.3,159.4 574,159 574.7,158.6 575.4,158.3 576.1,157.9 576.8,157.5 577.4,157.2 578.1,156.9 578.7,156.6 579.3,156.3 579.9,156 580.6,155.7 581.2,155.5 581.7,155.2 582.3,155 582.9,154.7 583.4,154.5 584,154.3 584.5,154.1 585.1,153.9 585.6,153.7 586.1,153.5 586.7,153.3 587.2,153.2 587.7,153 588.2,152.8 588.7,152.7 589.1,152.5 590.1,152.3 591,152 591.9,151.8 592.8,151.6 593.7,151.4 594.5,151.2 595.4,151 596.2,150.9 597,150.8 597.8,150.6 598.5,150.5 599.3,150.4 600,150.3 600.7,150.3 601.4,150.2 602.1,150.1 602.8,150.1 603.5,150 604.2,150 604.8,150 605.5,150 606.1,150 606.7,150 607.3,150 607.9,150 608.5,150 609.1,150 609.7,150 610.2,150 610.8,150.1 611.3,150.1 611.9,150.1 612.4,150.2 612.9,150.2 613.5,150.3 614,150.3 614.5,150.4 615,150.5 615.7,150.6 616.5,150.7 617.2,150.8 617.9,150.9 618.5,151 619.2,151.1 619.9,151.2 620.5,151.4 621.2,151.5 621.8,151.7 622.4,151.8 623,151.9 623.6,152.1 624.2,152.2 624.8,152.4 625.4,152.6 626,152.7 626.5,152.9 627.1,153 627.6,153.2 628.2,153.4 628.7,153.5 629.2,153.7 629.7,153.9 630.2,154.1 630.7,154.2 631.2,154.4 631.7,154.6 632.2,154.8 632.7,154.9 633.1,155.1 633.8,155.4 634.4,155.6 635,155.8 635.6,156.1 636.2,156.3 636.7,156.6 637.3,156.8 637.9,157 638.4,157.3 638.9,157.5 639.5,157.7 640,158 640.5,158.2 641,158.4 641.5,158.7 642,158.9 642.5,159.1 643,159.4 643.5,159.6 644,159.8 644.5,160 644.9,160.3 645.4,160.5 645.8,160.7 646.4,161 646.9,161.2 647.5,161.5 648,161.8 648.6,162 649.1,162.3 649.6,162.6 650.1,162.8 650.6,163.1 651.1,163.3 651.6,163.6 652.1,163.8 652.6,164 653,164.3 653.5,164.5 654,164.8 654.4,165 654.9,165.2 655.4,165.5 655.9,165.8 656.4,166 657,166.3 657.5,166.5 658,166.8 658.5,167 658.9,167.3 659.4,167.5 659.9,167.8 660.4,168 660.8,168.2 661.3,168.5 661.7,168.7 662.2,168.9 662.7,169.2 663.2,169.4 663.7,169.7 664.2,169.9 664.7,170.1 665.2,170.4 665.7,170.6 666.1,170.8 666.6,171.1 667.1,171.3 667.5,171.5 668,171.7 668.5,172 669,172.2 669.5,172.4 670,172.7 670.5,172.9 670.9,173" fill="none" stroke="#ff0000" stroke-width="3.0" stroke-linejoin="round" stroke-linecap="square"/>
<path d="M417.6 217.2h.01M444.6 217h.01M460.5 216h.01M471.7 214.4h.01M480.4 212.7h.01M487.5 211h.01M493.5 209.3h.01M498.8 207.7h.01M503.4 206h.01M507.5 204.4h.01M511.2 202.8h.01M514.6 201.1h.01M517.7 199.5h.01M520.6 197.9h.01M523.3 196.3h.01M525.8 194.6h.01M528.2 193.1h.01M530.4 191.5h.01M532.5 189.9h.01M534.5 188.4h.01M536.4 187h.01M538.3 185.6h.01M540 184.2h.01M541.7 182.9h.01M543.2 181.6h.01M544.8 180.4h.01M546.3 179.2h.01M547.7 178.1h.01M549 177h.01M550.4 175.9h.01M551.6 174.9h.01M552.9 173.9h.01M554.1 173h.01M555.3 172h.01M556.4 171.2h.01M557.5 170.3h.01M558.6 169.5h.01M559.6 168.7h.01M560.6 167.9h.01M561.6 167.2h.01M562.6 166.5h.01M563.5 165.8h.01M564.4 165.2h.01M565.3 164.5h.01M566.2 163.9h.01M567.1 163.4h.01M567.9 162.8h.01M568.7 162.3h.01M569.5 161.7h.01M570.3 161.2h.01M571.1 160.8h.01M572.6 159.9h.01M574 159h.01M575.4 158.3h.01M576.8 157.5h.01M578.1 156.9h.01M579.3 156.3h.01M580.6 155.7h.01M581.7 155.2h.01M582.9 154.7h.01M584 154.3h.01M585.1 153.9h.01M586.1 153.5h.01M587.2 153.2h.01M588.2 152.8h.01M589.1 152.5h.01M590.1 152.3h.01M591 152h.01M591.9 151.8h.01M592.8 151.6h.01M594.1 151.3h.01M595.4 151h.01M596.6 150.8h.01M597.8 150.6h.01M598.9 150.5h.01M600 150.3h.01M601.1 150.2h.01M602.1 150.1h.01M603.2 150.1h.01M604.2 150h.01M605.1 150h.01M606.1 150h.01M607 150h.01M607.9 150h.01M609.1 150h.01M610.2 150h.01M611.3 150.1h.01M612.4 150.2h.01M613.5 150.3h.01M614.5 150.4h.01M615.5 150.5h.01M616.5 150.7h.01M617.4 150.8h.01M618.3 151h.01M619.2 151.1h.01M620.3 151.3h.01M621.4 151.6h.01M622.4 151.8h.01M623.4 152h.01M624.4 152.3h.01M625.4 152.6h.01M626.3 152.8h.01M627.3 153.1h.01M628.2 153.4h.01M629 153.7h.01M629.9 153.9h.01M630.9 154.3h.01M631.9 154.6h.01M632.8 155h.01M633.8 155.4h.01M634.7 155.7h.01M635.6 156.1h.01M636.4 156.4h.01M637.3 156.8h.01M638.1 157.1h.01M639.1 157.6h.01M640 158h.01M640.9 158.4h.01M641.8 158.8h.01M642.7 159.2h.01M643.5 159.6h.01M644.3 160h.01M645.2 160.4h.01M646.1 160.8h.01M646.9 161.2h.01M647.8 161.7h.01M648.7 162.1h.01M649.5 162.5h.01M650.3 162.9h.01M651.2 163.4h.01M652.1 163.8h.01M652.9 164.2h.01M653.8 164.7h.01M654.6 165.1h.01M655.4 165.5h.01M656.3 165.9h.01M657.1 166.4h.01M658 166.8h.01M658.8 167.2h.01M659.7 167.6h.01M660.5 168.1h.01M661.4 168.5h.01M662.2 168.9h.01M663 169.3h.01M663.9 169.7h.01M664.7 170.1h.01M665.5 170.5h.01M666.4 171h.01M667.3 171.4h.01M668.1 171.8h.01M668.9 172.1h.01M669.8 172.5h.01M670.6 172.9h.01M670.9 173h.01" fill="none" stroke="#ff0000" stroke-width="7.2" stroke-linecap="square"/>
<polyline points="417.6,206.3 444.6,198.2 460.5,191.1 471.7,185.1 480.4,180 487.5,175.5 493.5,171.6 498.8,168 503.4,164.8 507.5,161.9 511.2,159.2 514.6,156.7 517.7,154.3 520.6,152.1 523.3,150.1 525.8,148.2 528.2,146.5 530.4,144.9 532.5,143.4 534.5,142 536.4,140.7 538.3,139.6 540,138.5 541.7,137.5 543.2,136.6 544.8,135.7 546.3,135 547.7,134.3 549,133.6 550.4,133 551.6,132.5 552.9,132 554.1,131.5 555.3,131.1 556.4,130.7 557.5,130.3 558.6,130 559.6,129.7 560.6,129.4 561.6,129.1 562.6,128.9 563.5,128.6 564.4,128.4 565.3,128.2 566.2,128 567.1,127.9 567.9,127.7 568.7,127.6 569.5,127.5 570.3,127.3 571.1,127.2 571.8,127.1 572.6,127 573.3,127 574,126.9 574.7,126.8 575.4,126.8 576.1,126.7 576.8,126.7 577.4,126.6 578.1,126.6 578.7,126.6 579.3,126.6 579.9,126.5 580.6,126.5 581.2,126.5 581.7,126.5 582.3,126.5 582.9,126.5 583.4,126.5 584,126.5 584.5,126.6 585.1,126.6 585.6,126.6 586.1,126.6 586.7,126.6 587.2,126.7 587.7,126.7 588.7,126.8 589.6,126.8 590.6,126.9 591.5,127 592.4,127.1 593.3,127.2 594.1,127.3 595,127.4 595.8,127.5 596.6,127.7 597.4,127.8 598.1,127.9 598.9,128 599.6,128.2 600.4,128.3 601.1,128.5 601.8,128.6 602.5,128.8 603.2,129 603.8,129.1 604.5,129.3 605.1,129.5 605.8,129.7 606.4,129.8 607,130 607.6,130.2 608.2,130.4 608.8,130.5 609.4,130.7 609.9,130.9 610.5,131 611.1,131.2 611.6,131.4 612.1,131.6 612.7,131.7 613.2,131.9 613.7,132.1 614.2,132.3 614.7,132.4 615.2,132.6 615.7,132.8 616.2,133 616.7,133.1 617.2,133.3 617.9,133.6 618.5,133.8 619.2,134.1 619.9,134.3 620.5,134.6 621.2,134.8 621.8,135.1 622.4,135.3 623,135.6 623.6,135.9 624.2,136.1 624.8,136.4 625.4,136.6 626,136.9 626.5,137.2 627.1,137.4 627.6,137.7 628.2,138 628.7,138.2 629.2,138.5 629.7,138.8 630.2,139.1 630.7,139.3 631.2,139.6 631.7,139.9 632.2,140.2 632.7,140.5 633.1,140.8 633.6,141.1 634.1,141.4 634.5,141.7 635,142 635.4,142.3 635.9,142.6 636.3,142.9 636.7,143.2 637.2,143.5 637.6,143.8 638,144.1 638.4,144.4 638.8,144.8 639.2,145.1 639.6,145.4 640,145.7 640.4,146.1 640.8,146.4 641.2,146.7 641.5,147 641.9,147.4 642.4,147.8 642.9,148.3 643.4,148.7 643.9,149.2 644.3,149.6 644.8,150.1 645.3,150.5 645.7,151 646.2,151.4 646.6,151.9 647.1,152.3 647.5,152.7 647.9,153.2 648.4,153.6 648.8,154.1 649.2,154.5 649.6,154.9 650,155.3 650.4,155.8 650.8,156.2 651.2,156.6 651.6,157 652,157.4 652.4,157.8 652.7,158.2 653.1,158.6 653.5,159 653.9,159.4 654.2,159.8 654.6,160.1 655,160.5 655.3,160.9 655.7,161.2 656.1,161.7 656.5,162.1 657,162.5 657.4,162.9 657.8,163.3 658.2,163.7 658.6,164.1 659,164.5 659.4,164.9 659.8,165.2 660.2,165.6 660.6,165.9 661,166.3 661.4,166.6 661.8,167 662.3,167.4 662.7,167.7 663.1,168.1 663.6,168.4 664,168.7 664.4,169 664.8,169.3 665.3,169.6 665.8,169.9 666.3,170.2 666.7,170.5 667.2,170.7 667.7,171 668.2,171.2 668.7,171.4 669.2,171.6 669.7,171.8 670.2,172 670.6,172.1 670.9,172.2" fill="none" stroke="#ff0000" stroke-width="3.0" stroke-linejoin="round" stroke-linecap="square"/>
<path d="M414.6 203.3l6 6m-6 0l6 -6M441.6 195.2l6 6m-6 0l6 -6M457.5 188.1l6 6m-6 0l6 -6M468.7 182.1l6 6m-6 0l6 -6M477.4 177l6 6m-6 0l6 -6M484.5 172.5l6 6m-6 0l6 -6M490.5 168.6l6 6m-6 0l6 -6M495.8 165l6 6m-6 0l6 -6M500.4 161.8l6 6m-6 0l6 -6M504.5 158.9l6 6m-6 0l6 -6M508.2 156.2l6 6m-6 0l6 -6M511.6 153.7l6 6m-6 0l6 -6M514.7 151.3l6 6m-6 0l6 -6M517.6 149.1l6 6m-6 0l6 -6M520.3 147.1l6 6m-6 0l6 -6M522.8 145.2l6 6m-6 0l6 -6M525.2 143.5l6 6m-6 0l6 -6M527.4 141.9l6 6m-6 0l6 -6M529.5 140.4l6 6m-6 0l6 -6M531.5 139l6 6m-6 0l6 -6M533.4 137.7l6 6m-6 0l6 -6M535.3 136.6l6 6m-6 0l6 -6M537 135.5l6 6m-6 0l6 -6M538.7 134.5l6 6m-6 0l6 -6M540.2 133.6l6 6m-6 0l6 -6M541.8 132.7l6 6m-6 0l6 -6M543.3 132l6 6m-6 0l6 -6M544.7 131.3l6 6m-6 0l6 -6M546 130.6l6 6m-6 0l6 -6M547.4 130l6 6m-6 0l6 -6M548.6 129.5l6 6m-6 0l6 -6M549.9 129l6 6m-6 0l6 -6M551.1 128.5l6 6m-6 0l6 -6M552.3 128.1l6 6m-6 0l6 -6M553.4 127.7l6 6m-6 0l6 -6M554.5 127.3l6 6m-6 0l6 -6M555.6 127l6 6m-6 0l6 -6M556.6 126.7l6 6m-6 0l6 -6M557.6 126.4l6 6m-6 0l6 -6M558.6 126.1l6 6m-6 0l6 -6M559.6 125.9l6 6m-6 0l6 -6M560.5 125.6l6 6m-6 0l6 -6M561.4 125.4l6 6m-6 0l6 -6M562.3 125.2l6 6m-6 0l6 -6M564.1 124.9l6 6m-6 0l6 -6M565.7 124.6l6 6m-6 0l6 -6M567.3 124.3l6 6m-6 0l6 -6M568.8 124.1l6 6m-6 0l6 -6M570.3 124l6 6m-6 0l6 -6M571.7 123.8l6 6m-6 0l6 -6M573.1 123.7l6 6m-6 0l6 -6M574.4 123.6l6 6m-6 0l6 -6M575.7 123.6l6 6m-6 0l6 -6M576.9 123.5l6 6m-6 0l6 -6M578.2 123.5l6 6m-6 0l6 -6M579.3 123.5l6 6m-6 0l6 -6M580.4 123.5l6 6m-6 0l6 -6M581.5 123.6l6 6m-6 0l6 -6M582.6 123.6l6 6m-6 0l6 -6M583.7 123.6l6 6m-6 0l6 -6M584.7 123.7l6 6m-6 0l6 -6M585.7 123.8l6 6m-6 0l6 -6M586.6 123.8l6 6m-6 0l6 -6M587.6 123.9l6 6m-6 0l6 -6M588.5 124l6 6m-6 0l6 -6M589.4 124.1l6 6m-6 0l6 -6M590.7 124.3l6 6m-6 0l6 -6M592 124.4l6 6m-6 0l6 -6M593.2 124.6l6 6m-6 0l6 -6M594.4 124.8l6 6m-6 0l6 -6M595.5 125l6 6m-6 0l6 -6M596.6 125.2l6 6m-6 0l6 -6M597.7 125.4l6 6m-6 0l6 -6M598.8 125.6l6 6m-6 0l6 -6M599.8 125.9l6 6m-6 0l6 -6M600.8 126.1l6 6m-6 0l6 -6M601.8 126.4l6 6m-6 0l6 -6M602.8 126.7l6 6m-6 0l6 -6M603.7 126.9l6 6m-6 0l6 -6M604.6 127.2l6 6m-6 0l6 -6M605.5 127.4l6 6m-6 0l6 -6M606.4 127.7l6 6m-6 0l6 -6M607.5 128l6 6m-6 0l6 -6M608.6 128.4l6 6m-6 0l6 -6M609.7 128.7l6 6m-6 0l6 -6M610.7 129.1l6 6m-6 0l6 -6M611.7 129.4l6 6m-6 0l6 -6M612.7 129.8l6 6m-6 0l6 -6M613.7 130.1l6 6m-6 0l6 -6M614.6 130.5l6 6m-6 0l6 -6M615.5 130.8l6 6m-6 0l6 -6M616.4 131.2l6 6m-6 0l6 -6M617.3 131.5l6 6m-6 0l6 -6M618.2 131.8l6 6m-6 0l6 -6M619 132.2l6 6m-6 0l6 -6M620 132.6l6 6m-6 0l6 -6M621 133l6 6m-6 0l6 -6M622 133.5l6 6m-6 0l6 -6M623 133.9l6 6m-6 0l6 -6M623.9 134.3l6 6m-6 0l6 -6M624.8 134.8l6 6m-6 0l6 -6M625.7 135.2l6 6m-6 0l6 -6M626.6 135.7l6 6m-6 0l6 -6M627.4 136.2l6 6m-6 0l6 -6M628.2 136.6l6 6m-6 0l6 -6M629 137.1l6 6m-6 0l6 -6M629.8 137.6l6 6m-6 0l6 -6M630.6 138.1l6 6m-6 0l6 -6M631.4 138.6l6 6m-6 0l6 -6M632.1 139.1l6 6m-6 0l6 -6M633 139.7l6 6m-6 0l6 -6M633.9 140.3l6 6m-6 0l6 -6M634.7 140.9l6 6m-6 0l6 -6M635.5 141.6l6 6m-6 0l6 -6M636.3 142.2l6 6m-6 0l6 -6M637.1 142.8l6 6m-6 0l6 -6M637.9 143.5l6 6m-6 0l6 -6M638.7 144.1l6 6m-6 0l6 -6M639.4 144.8l6 6m-6 0l6 -6M640.2 145.5l6 6m-6 0l6 -6M640.9 146.2l6 6m-6 0l6 -6M641.6 146.8l6 6m-6 0l6 -6M642.3 147.5l6 6m-6 0l6 -6M642.9 148.2l6 6m-6 0l6 -6M643.6 148.9l6 6m-6 0l6 -6M644.3 149.5l6 6m-6 0l6 -6M644.9 150.2l6 6m-6 0l6 -6M645.6 150.8l6 6m-6 0l6 -6M646.2 151.5l6 6m-6 0l6 -6M646.9 152.2l6 6m-6 0l6 -6M647.6 153l6 6m-6 0l6 -6M648.3 153.7l6 6m-6 0l6 -6M649 154.4l6 6m-6 0l6 -6M649.7 155.1l6 6m-6 0l6 -6M650.3 155.8l6 6m-6 0l6 -6M651 156.5l6 6m-6 0l6 -6M651.6 157.1l6 6m-6 0l6 -6M652.3 157.9l6 6m-6 0l6 -6M653 158.6l6 6m-6 0l6 -6M653.7 159.3l6 6m-6 0l6 -6M654.4 159.9l6 6m-6 0l6 -6M655 160.6l6 6m-6 0l6 -6M655.7 161.2l6 6m-6 0l6 -6M656.4 161.9l6 6m-6 0l6 -6M657.1 162.5l6 6m-6 0l6 -6M657.8 163.1l6 6m-6 0l6 -6M658.5 163.7l6 6m-6 0l6 -6M659.3 164.4l6 6m-6 0l6 -6M660 164.9l6 6m-6 0l6 -6M660.7 165.5l6 6m-6 0l6 -6M661.5 166l6 6m-6 0l6 -6M662.3 166.6l6 6m-6 0l6 -6M663.1 167.1l6 6m-6 0l6 -6M663.9 167.5l6 6m-6 0l6 -6M664.7 168l6 6m-6 0l6 -6M665.5 168.4l6 6m-6 0l6 -6M666.4 168.7l6 6m-6 0l6 -6M667.3 169l6 6m-6 0l6 -6M667.9 169.2l6 6m-6 0l6 -6" fill="none" stroke="#ff0000" stroke-width="1.2"/>
<polyline points="417.6,201.3 418.1,200.9 418.6,200.4 419.1,200 419.6,199.6 420.1,199.2 420.6,198.8 421.2,198.4 421.7,198 422.2,197.6 422.7,197.3 423.2,196.9 423.7,196.6 424.2,196.2 424.7,195.9 425.2,195.5 425.7,195.2 426.2,194.9 426.7,194.6 427.2,194.2 427.8,193.9 428.3,193.6 428.8,193.3 429.3,193 429.8,192.7 430.3,192.4 430.8,192.1 431.3,191.8 431.8,191.5 432.3,191.3 432.8,191 433.3,190.7 433.9,190.4 434.4,190.1 434.9,189.8 435.4,189.6 435.9,189.3 436.4,189 436.9,188.7 437.4,188.4 437.9,188.2 438.4,187.9 438.9,187.6 439.4,187.3 439.9,187 440.5,186.7 441,186.4 441.5,186.1 442,185.8 442.5,185.5 443,185.2 443.5,184.9 444,184.6 444.5,184.3 445,183.9 445.5,183.6 446,183.3 446.5,182.9 447.1,182.6 447.6,182.2 448.1,181.9 448.6,181.5 449.1,181.2 449.6,180.8 450.1,180.4 450.6,180 451.1,179.6 451.6,179.2 452.1,178.8 452.6,178.3 453.1,177.9 453.7,177.5 454.2,177 454.7,176.6 455.2,176.1 455.7,175.6 456.2,175.1 456.7,174.6 457.2,174.1 457.7,173.6 458.2,173 458.7,172.5 459.2,171.9 459.7,171.3 460.3,170.8 460.8,170.2 461.3,169.6 461.8,168.9 462.3,168.3 462.8,167.6 463.3,167 463.8,166.3 464.3,165.6 464.8,164.9 465.3,164.2 465.8,163.4 466.4,162.7 466.9,161.9 467.4,161.1 467.9,160.3 468.4,159.5 468.9,158.7 469.4,157.8 469.9,156.9 470.4,156.1 470.9,155.2 471.4,154.3 471.9,153.4 472.4,152.5 473,151.5 473.5,150.6 474,149.6 474.5,148.7 475,147.7 475.5,146.8 476,145.8 476.5,144.9 477,143.9 477.5,142.9 478,142 478.5,141 479,140 479.6,139 480.1,138.1 480.6,137.1 481.1,136.1 481.6,135.1 482.1,134.2 482.6,133.2 483.1,132.2 483.6,131.2 484.1,130.2 484.6,129.2 485.1,128.2 485.6,127.2 486.2,126.2 486.7,125.2 487.2,124.2 487.7,123.2 488.2,122.2 488.7,121.2 489.2,120.2 489.7,119.2 490.2,118.1 490.7,117.1 491.2,116.1 491.7,115.1 492.2,114 492.8,113 493.3,111.9 493.8,110.9 494.3,109.8 494.8,108.7 495.3,107.7 495.8,106.6 496.3,105.5 496.8,104.5 497.3,103.4 497.8,102.3 498.3,101.2 498.9,100.1 499.4,99 499.9,97.8 500.4,96.7 500.9,95.6 501.4,94.5 501.9,93.3 502.4,92.2 502.9,91 503.4,89.9 503.9,88.7 504.4,87.5 504.9,86.4 505.5,85.2 506,84 506.5,82.8 507,81.7 507.5,80.6 508,79.4 508.5,78.3 509,77.2 509.5,76.1 510,75 510.5,73.9 511,72.9 511.5,71.8 512.1,70.8 512.6,69.7 513.1,68.7 513.6,67.7 514.1,66.6 514.6,65.6 515.1,64.6 515.6,63.7 516.1,62.7 516.6,61.7 517.1,60.8 517.6,59.8 518.1,58.9 518.7,58 519.2,57.1 519.7,56.2 520.2,55.3 520.7,54.4 521.2,53.6 521.7,52.7 522.2,51.9 522.7,51.1 523.2,50.3 523.7,49.6 524.2,48.8 524.7,48.1 525.3,47.4 525.8,46.7 526.3,46 526.8,45.4 527.3,44.8 527.8,44.1 528.3,43.6 528.8,43 529.3,42.4 529.8,41.9 530.3,41.4 530.8,41 531.4,40.5 531.9,40.1 532.4,39.7 532.9,39.3 533.4,38.9 533.9,38.6 534.4,38.3 534.9,38 535.4,37.7 535.9,37.5 536.4,37.3 536.9,37.1 537.4,36.9 538,36.7 538.5,36.6 539,36.5 539.5,36.4 540,36.3 540.5,36.3 541,36.3 541.5,36.2 542,36.3 542.5,36.3 543,36.4 543.5,36.4 544,36.5 544.6,36.6 545.1,36.8 545.6,36.9 546.1,37.1 546.6,37.3 547.1,37.5 547.6,37.7 548.1,38 548.6,38.2 549.1,38.5 549.6,38.8 550.1,39.1 550.6,39.4 551.2,39.8 551.7,40.1 552.2,40.5 552.7,40.9 553.2,41.3 553.7,41.7 554.2,42.1 554.7,42.6 555.2,43 555.7,43.5 556.2,44 556.7,44.5 557.2,45 557.8,45.5 558.3,46 558.8,46.6 559.3,47.1 559.8,47.7 560.3,48.3 560.8,48.9 561.3,49.5 561.8,50.1 562.3,50.7 562.8,51.3 563.3,51.9 563.9,52.6 564.4,53.2 564.9,53.9 565.4,54.5 565.9,55.2 566.4,55.9 566.9,56.6 567.4,57.3 567.9,58 568.4,58.7 568.9,59.4 569.4,60.1 569.9,60.8 570.5,61.5 571,62.3 571.5,63 572,63.7 572.5,64.5 573,65.2 573.5,66 574,66.7 574.5,67.5 575,68.2 575.5,68.9 576,69.7 576.5,70.4 577.1,71.1 577.6,71.8 578.1,72.6 578.6,73.3 579.1,74 579.6,74.6 580.1,75.3 580.6,76 581.1,76.6 581.6,77.2 582.1,77.8 582.6,78.4 583.1,79 583.7,79.6 584.2,80.1 584.7,80.6 585.2,81.1 585.7,81.6 586.2,82.1 586.7,82.5 587.2,83 587.7,83.4 588.2,83.8 588.7,84.3 589.2,84.7 589.7,85.2 590.3,85.6 590.8,86.1 591.3,86.5 591.8,87 592.3,87.5 592.8,88 593.3,88.5 593.8,89 594.3,89.5 594.8,90 595.3,90.5 595.8,91.1 596.4,91.6 596.9,92.1 597.4,92.7 597.9,93.2 598.4,93.7 598.9,94.2 599.4,94.8 599.9,95.3 600.4,95.8 600.9,96.3 601.4,96.8 601.9,97.3 602.4,97.7 603,98.2 603.5,98.7 604,99.1 604.5,99.6 605,100 605.5,100.4 606,100.8 606.5,101.2 607,101.6 607.5,102 608,102.4 608.5,102.8 609,103.1 609.6,103.5 610.1,103.9 610.6,104.2 611.1,104.6 611.6,104.9 612.1,105.2 612.6,105.6 613.1,105.9 613.6,106.2 614.1,106.6 614.6,106.9 615.1,107.2 615.6,107.5 616.2,107.8 616.7,108.1 617.2,108.5 617.7,108.8 618.2,109.1 618.7,109.4 619.2,109.7 619.7,110 620.2,110.3 620.7,110.6 621.2,110.9 621.7,111.3 622.2,111.6 622.8,111.9 623.3,112.2 623.8,112.5 624.3,112.9 624.8,113.2 625.3,113.5 625.8,113.9 626.3,114.2 626.8,114.5 627.3,114.9 627.8,115.2 628.3,115.6 628.9,116 629.4,116.3 629.9,116.7 630.4,117.1 630.9,117.5 631.4,117.9 631.9,118.3 632.4,118.7 632.9,119.1 633.4,119.5 633.9,119.9 634.4,120.4 634.9,120.8 635.5,121.2 636,121.7 636.5,122.2 637,122.6 637.5,123.1 638,123.6 638.5,124 639,124.5 639.5,125 640,125.5 640.5,126 641,126.6 641.5,127.1 642.1,127.6 642.6,128.1 643.1,128.7 643.6,129.2 644.1,129.8 644.6,130.4 645.1,131 645.6,131.5 646.1,132.1 646.6,132.7 647.1,133.3 647.6,134 648.1,134.6 648.7,135.2 649.2,135.9 649.7,136.5 650.2,137.2 650.7,137.8 651.2,138.5 651.7,139.2 652.2,139.9 652.7,140.6 653.2,141.3 653.7,142 654.2,142.8 654.7,143.5 655.3,144.2 655.8,145 656.3,145.7 656.8,146.5 657.3,147.2 657.8,148 658.3,148.7 658.8,149.4 659.3,150.1 659.8,150.8 660.3,151.5 660.8,152.2 661.4,152.8 661.9,153.5 662.4,154.2 662.9,154.8 663.4,155.5 663.9,156.3 664.4,157 664.9,157.8 665.4,158.7 665.9,159.5 666.4,160.4 666.9,161.2 667.4,162 668,162.7 668.5,163.3 669,163.8 669.5,164 670,164 670.5,163.7 671,163" fill="none" stroke="#000" stroke-width="3.1" stroke-linejoin="round" stroke-linecap="square"/>
<polyline points="417.6,217.2 418.1,217.2 418.6,217.2 419.1,217.2 419.6,217.2 420.1,217.2 420.6,217.2 421.2,217.2 421.7,217.2 422.2,217.2 422.7,217.2 423.2,217.2 423.7,217.2 424.2,217.2 424.7,217.2 425.2,217.2 425.7,217.2 426.2,217.2 426.7,217.2 427.2,217.2 427.8,217.2 428.3,217.2 428.8,217.2 429.3,217.2 429.8,217.2 430.3,217.2 430.8,217.2 431.3,217.2 431.8,217.2 432.3,217.2 432.8,217.2 433.3,217.2 433.9,217.2 434.4,217.2 434.9,217.2 435.4,217.2 435.9,217.1 436.4,217.1 436.9,217.1 437.4,217.1 437.9,217.1 438.4,217.1 438.9,217.1 439.4,217.1 439.9,217.1 440.5,217.1 441,217.1 441.5,217.1 442,217 442.5,217 443,217 443.5,217 444,217 444.5,217 445,217 445.5,216.9 446,216.9 446.5,216.9 447.1,216.9 447.6,216.9 448.1,216.8 448.6,216.8 449.1,216.8 449.6,216.8 450.1,216.8 450.6,216.7 451.1,216.7 451.6,216.7 452.1,216.6 452.6,216.6 453.1,216.6 453.7,216.5 454.2,216.5 454.7,216.5 455.2,216.4 455.7,216.4 456.2,216.4 456.7,216.3 457.2,216.3 457.7,216.2 458.2,216.2 458.7,216.1 459.2,216.1 459.7,216 460.3,216 460.8,215.9 461.3,215.9 461.8,215.8 462.3,215.8 462.8,215.7 463.3,215.6 463.8,215.6 464.3,215.5 464.8,215.4 465.3,215.4 465.8,215.3 466.4,215.2 466.9,215.2 467.4,215.1 467.9,215 468.4,214.9 468.9,214.9 469.4,214.8 469.9,214.7 470.4,214.6 470.9,214.5 471.4,214.5 471.9,214.4 472.4,214.3 473,214.2 473.5,214.1 474,214 474.5,213.9 475,213.8 475.5,213.7 476,213.6 476.5,213.5 477,213.4 477.5,213.3 478,213.2 478.5,213.1 479,213 479.6,212.9 480.1,212.8 480.6,212.7 481.1,212.6 481.6,212.4 482.1,212.3 482.6,212.2 483.1,212.1 483.6,212 484.1,211.8 484.6,211.7 485.1,211.6 485.6,211.5 486.2,211.3 486.7,211.2 487.2,211.1 487.7,210.9 488.2,210.8 488.7,210.7 489.2,210.5 489.7,210.4 490.2,210.3 490.7,210.1 491.2,210 491.7,209.8 492.2,209.7 492.8,209.5 493.3,209.4 493.8,209.2 494.3,209.1 494.8,208.9 495.3,208.8 495.8,208.6 496.3,208.5 496.8,208.3 497.3,208.1 497.8,208 498.3,207.8 498.9,207.6 499.4,207.5 499.9,207.3 500.4,207.1 500.9,206.9 501.4,206.8 501.9,206.6 502.4,206.4 502.9,206.2 503.4,206 503.9,205.8 504.4,205.6 504.9,205.4 505.5,205.2 506,205 506.5,204.8 507,204.6 507.5,204.4 508,204.2 508.5,204 509,203.8 509.5,203.5 510,203.3 510.5,203.1 511,202.8 511.5,202.6 512.1,202.4 512.6,202.1 513.1,201.9 513.6,201.6 514.1,201.4 514.6,201.1 515.1,200.9 515.6,200.6 516.1,200.4 516.6,200.1 517.1,199.8 517.6,199.6 518.1,199.3 518.7,199 519.2,198.7 519.7,198.4 520.2,198.1 520.7,197.8 521.2,197.5 521.7,197.2 522.2,196.9 522.7,196.6 523.2,196.3 523.7,196 524.2,195.7 524.7,195.4 525.3,195 525.8,194.7 526.3,194.4 526.8,194 527.3,193.7 527.8,193.3 528.3,193 528.8,192.6 529.3,192.3 529.8,191.9 530.3,191.5 530.8,191.2 531.4,190.8 531.9,190.4 532.4,190.1 532.9,189.7 533.4,189.3 533.9,188.9 534.4,188.6 534.9,188.2 535.4,187.8 535.9,187.4 536.4,187 536.9,186.6 537.4,186.2 538,185.8 538.5,185.4 539,185 539.5,184.6 540,184.2 540.5,183.8 541,183.4 541.5,183 542,182.6 542.5,182.2 543,181.8 543.5,181.4 544,181 544.6,180.6 545.1,180.2 545.6,179.8 546.1,179.4 546.6,179 547.1,178.5 547.6,178.1 548.1,177.7 548.6,177.3 549.1,176.9 549.6,176.5 550.1,176.1 550.6,175.7 551.2,175.3 551.7,174.9 552.2,174.5 552.7,174.1 553.2,173.7 553.7,173.3 554.2,172.9 554.7,172.5 555.2,172.1 555.7,171.7 556.2,171.3 556.7,170.9 557.2,170.5 557.8,170.1 558.3,169.7 558.8,169.3 559.3,168.9 559.8,168.6 560.3,168.2 560.8,167.8 561.3,167.4 561.8,167 562.3,166.7 562.8,166.3 563.3,165.9 563.9,165.6 564.4,165.2 564.9,164.9 565.4,164.5 565.9,164.2 566.4,163.8 566.9,163.5 567.4,163.1 567.9,162.8 568.4,162.5 568.9,162.1 569.4,161.8 569.9,161.5 570.5,161.2 571,160.8 571.5,160.5 572,160.2 572.5,159.9 573,159.6 573.5,159.3 574,159 574.5,158.8 575,158.5 575.5,158.2 576,157.9 576.5,157.7 577.1,157.4 577.6,157.1 578.1,156.9 578.6,156.6 579.1,156.4 579.6,156.2 580.1,155.9 580.6,155.7 581.1,155.5 581.6,155.3 582.1,155 582.6,154.8 583.1,154.6 583.7,154.4 584.2,154.2 584.7,154 585.2,153.9 585.7,153.7 586.2,153.5 586.7,153.3 587.2,153.1 587.7,153 588.2,152.8 588.7,152.7 589.2,152.5 589.7,152.4 590.3,152.2 590.8,152.1 591.3,152 591.8,151.8 592.3,151.7 592.8,151.6 593.3,151.5 593.8,151.4 594.3,151.2 594.8,151.1 595.3,151 595.8,151 596.4,150.9 596.9,150.8 597.4,150.7 597.9,150.6 598.4,150.5 598.9,150.5 599.4,150.4 599.9,150.4 600.4,150.3 600.9,150.2 601.4,150.2 601.9,150.2 602.4,150.1 603,150.1 603.5,150.1 604,150 604.5,150 605,150 605.5,150 606,150 606.5,150 607,150 607.5,150 608,150 608.5,150 609,150 609.6,150 610.1,150 610.6,150.1 611.1,150.1 611.6,150.1 612.1,150.2 612.6,150.2 613.1,150.2 613.6,150.3 614.1,150.4 614.6,150.4 615.1,150.5 615.6,150.5 616.2,150.6 616.7,150.7 617.2,150.8 617.7,150.8 618.2,150.9 618.7,151 619.2,151.1 619.7,151.2 620.2,151.3 620.7,151.4 621.2,151.5 621.7,151.6 622.2,151.8 622.8,151.9 623.3,152 623.8,152.1 624.3,152.3 624.8,152.4 625.3,152.5 625.8,152.7 626.3,152.8 626.8,153 627.3,153.1 627.8,153.3 628.3,153.4 628.9,153.6 629.4,153.8 629.9,153.9 630.4,154.1 630.9,154.3 631.4,154.5 631.9,154.7 632.4,154.8 632.9,155 633.4,155.2 633.9,155.4 634.4,155.6 634.9,155.8 635.5,156 636,156.2 636.5,156.4 637,156.7 637.5,156.9 638,157.1 638.5,157.3 639,157.5 639.5,157.8 640,158 640.5,158.2 641,158.4 641.5,158.7 642.1,158.9 642.6,159.1 643.1,159.4 643.6,159.6 644.1,159.9 644.6,160.1 645.1,160.3 645.6,160.6 646.1,160.8 646.6,161.1 647.1,161.3 647.6,161.6 648.1,161.8 648.7,162.1 649.2,162.3 649.7,162.6 650.2,162.8 650.7,163.1 651.2,163.4 651.7,163.6 652.2,163.9 652.7,164.1 653.2,164.4 653.7,164.6 654.2,164.9 654.7,165.2 655.3,165.4 655.8,165.7 656.3,165.9 656.8,166.2 657.3,166.4 657.8,166.7 658.3,167 658.8,167.2 659.3,167.5 659.8,167.7 660.3,168 660.8,168.2 661.4,168.5 661.9,168.7 662.4,169 662.9,169.3 663.4,169.5 663.9,169.8 664.4,170 664.9,170.2 665.4,170.5 665.9,170.7 666.4,171 666.9,171.2 667.4,171.5 668,171.7 668.5,171.9 669,172.2 669.5,172.4 670,172.6 670.5,172.9 671,173.1" fill="none" stroke="#000" stroke-width="3.1" stroke-linejoin="round" stroke-linecap="square"/>
<polyline points="417.6,207.3 418.1,207.2 418.6,207.1 419.1,207 419.6,206.9 420.1,206.8 420.6,206.7 421.2,206.6 421.7,206.5 422.2,206.3 422.7,206.2 423.2,206.1 423.7,206 424.2,205.9 424.7,205.7 425.2,205.6 425.7,205.5 426.2,205.3 426.7,205.2 427.2,205.1 427.8,204.9 428.3,204.8 428.8,204.6 429.3,204.5 429.8,204.4 430.3,204.2 430.8,204.1 431.3,203.9 431.8,203.8 432.3,203.6 432.8,203.4 433.3,203.3 433.9,203.1 434.4,203 434.9,202.8 435.4,202.6 435.9,202.5 436.4,202.3 436.9,202.1 437.4,201.9 437.9,201.8 438.4,201.6 438.9,201.4 439.4,201.2 439.9,201 440.5,200.9 441,200.7 441.5,200.5 442,200.3 442.5,200.1 443,199.9 443.5,199.7 444,199.5 444.5,199.3 445,199.1 445.5,198.9 446,198.7 446.5,198.5 447.1,198.3 447.6,198.1 448.1,197.9 448.6,197.7 449.1,197.4 449.6,197.2 450.1,197 450.6,196.8 451.1,196.6 451.6,196.3 452.1,196.1 452.6,195.9 453.1,195.7 453.7,195.4 454.2,195.2 454.7,195 455.2,194.7 455.7,194.5 456.2,194.3 456.7,194 457.2,193.8 457.7,193.6 458.2,193.3 458.7,193.1 459.2,192.8 459.7,192.6 460.3,192.3 460.8,192.1 461.3,191.8 461.8,191.6 462.3,191.3 462.8,191.1 463.3,190.8 463.8,190.5 464.3,190.3 464.8,190 465.3,189.7 465.8,189.5 466.4,189.2 466.9,188.9 467.4,188.7 467.9,188.4 468.4,188.1 468.9,187.9 469.4,187.6 469.9,187.3 470.4,187 470.9,186.7 471.4,186.5 471.9,186.2 472.4,185.9 473,185.6 473.5,185.3 474,185 474.5,184.8 475,184.5 475.5,184.2 476,183.9 476.5,183.6 477,183.3 477.5,183 478,182.7 478.5,182.4 479,182.1 479.6,181.8 480.1,181.5 480.6,181.2 481.1,180.9 481.6,180.6 482.1,180.3 482.6,180 483.1,179.6 483.6,179.3 484.1,179 484.6,178.7 485.1,178.4 485.6,178.1 486.2,177.8 486.7,177.4 487.2,177.1 487.7,176.8 488.2,176.5 488.7,176.2 489.2,175.8 489.7,175.5 490.2,175.2 490.7,174.8 491.2,174.5 491.7,174.2 492.2,173.9 492.8,173.5 493.3,173.2 493.8,172.9 494.3,172.5 494.8,172.2 495.3,171.8 495.8,171.5 496.3,171.2 496.8,170.8 497.3,170.5 497.8,170.1 498.3,169.8 498.9,169.5 499.4,169.1 499.9,168.8 500.4,168.4 500.9,168.1 501.4,167.7 501.9,167.4 502.4,167 502.9,166.7 503.4,166.3 503.9,166 504.4,165.6 504.9,165.3 505.5,164.9 506,164.5 506.5,164.2 507,163.8 507.5,163.5 508,163.1 508.5,162.7 509,162.4 509.5,162 510,161.6 510.5,161.3 511,160.9 511.5,160.5 512.1,160.2 512.6,159.8 513.1,159.4 513.6,159.1 514.1,158.7 514.6,158.3 515.1,158 515.6,157.6 516.1,157.2 516.6,156.8 517.1,156.5 517.6,156.1 518.1,155.7 518.7,155.3 519.2,155 519.7,154.6 520.2,154.2 520.7,153.8 521.2,153.4 521.7,153.1 522.2,152.7 522.7,152.3 523.2,151.9 523.7,151.6 524.2,151.2 524.7,150.8 525.3,150.4 525.8,150.1 526.3,149.7 526.8,149.3 527.3,149 527.8,148.6 528.3,148.2 528.8,147.9 529.3,147.5 529.8,147.2 530.3,146.8 530.8,146.4 531.4,146.1 531.9,145.7 532.4,145.4 532.9,145 533.4,144.7 533.9,144.3 534.4,144 534.9,143.7 535.4,143.3 535.9,143 536.4,142.7 536.9,142.3 537.4,142 538,141.7 538.5,141.4 539,141.1 539.5,140.7 540,140.4 540.5,140.1 541,139.8 541.5,139.5 542,139.2 542.5,139 543,138.7 543.5,138.4 544,138.1 544.6,137.8 545.1,137.6 545.6,137.3 546.1,137.1 546.6,136.8 547.1,136.5 547.6,136.3 548.1,136.1 548.6,135.8 549.1,135.6 549.6,135.4 550.1,135.1 550.6,134.9 551.2,134.7 551.7,134.5 552.2,134.3 552.7,134.1 553.2,133.9 553.7,133.7 554.2,133.5 554.7,133.3 555.2,133.1 555.7,132.9 556.2,132.8 556.7,132.6 557.2,132.4 557.8,132.3 558.3,132.1 558.8,132 559.3,131.8 559.8,131.7 560.3,131.5 560.8,131.4 561.3,131.2 561.8,131.1 562.3,131 562.8,130.9 563.3,130.7 563.9,130.6 564.4,130.5 564.9,130.4 565.4,130.3 565.9,130.2 566.4,130.1 566.9,130 567.4,129.9 567.9,129.8 568.4,129.7 568.9,129.6 569.4,129.6 569.9,129.5 570.5,129.4 571,129.3 571.5,129.3 572,129.2 572.5,129.2 573,129.1 573.5,129.1 574,129 574.5,129 575,128.9 575.5,128.9 576,128.8 576.5,128.8 577.1,128.8 577.6,128.8 578.1,128.7 578.6,128.7 579.1,128.7 579.6,128.7 580.1,128.7 580.6,128.7 581.1,128.7 581.6,128.7 582.1,128.7 582.6,128.7 583.1,128.7 583.7,128.7 584.2,128.7 584.7,128.7 585.2,128.7 585.7,128.7 586.2,128.8 586.7,128.8 587.2,128.8 587.7,128.9 588.2,128.9 588.7,128.9 589.2,129 589.7,129 590.3,129.1 590.8,129.1 591.3,129.2 591.8,129.2 592.3,129.3 592.8,129.3 593.3,129.4 593.8,129.4 594.3,129.5 594.8,129.6 595.3,129.7 595.8,129.7 596.4,129.8 596.9,129.9 597.4,130 597.9,130 598.4,130.1 598.9,130.2 599.4,130.3 599.9,130.4 600.4,130.5 600.9,130.6 601.4,130.7 601.9,130.8 602.4,130.9 603,131 603.5,131.1 604,131.2 604.5,131.4 605,131.5 605.5,131.6 606,131.7 606.5,131.8 607,132 607.5,132.1 608,132.2 608.5,132.3 609,132.5 609.6,132.6 610.1,132.8 610.6,132.9 611.1,133 611.6,133.2 612.1,133.3 612.6,133.5 613.1,133.6 613.6,133.8 614.1,133.9 614.6,134.1 615.1,134.3 615.6,134.4 616.2,134.6 616.7,134.7 617.2,134.9 617.7,135.1 618.2,135.2 618.7,135.4 619.2,135.6 619.7,135.8 620.2,135.9 620.7,136.1 621.2,136.3 621.7,136.5 622.2,136.7 622.8,136.9 623.3,137.1 623.8,137.3 624.3,137.5 624.8,137.7 625.3,137.9 625.8,138.1 626.3,138.3 626.8,138.6 627.3,138.8 627.8,139 628.3,139.3 628.9,139.5 629.4,139.8 629.9,140 630.4,140.3 630.9,140.6 631.4,140.8 631.9,141.1 632.4,141.4 632.9,141.7 633.4,142 633.9,142.3 634.4,142.6 634.9,142.9 635.5,143.2 636,143.6 636.5,143.9 637,144.3 637.5,144.6 638,145 638.5,145.4 639,145.8 639.5,146.1 640,146.5 640.5,147 641,147.4 641.5,147.8 642.1,148.2 642.6,148.7 643.1,149.1 643.6,149.6 644.1,150.1 644.6,150.5 645.1,151 645.6,151.5 646.1,152 646.6,152.5 647.1,153 647.6,153.5 648.1,154 648.7,154.5 649.2,155 649.7,155.6 650.2,156.1 650.7,156.6 651.2,157.1 651.7,157.6 652.2,158.2 652.7,158.7 653.2,159.2 653.7,159.7 654.2,160.2 654.7,160.7 655.3,161.2 655.8,161.7 656.3,162.2 656.8,162.7 657.3,163.2 657.8,163.7 658.3,164.2 658.8,164.6 659.3,165.1 659.8,165.6 660.3,166 660.8,166.4 661.4,166.9 661.9,167.3 662.4,167.7 662.9,168.1 663.4,168.4 663.9,168.8 664.4,169.2 664.9,169.5 665.4,169.8 665.9,170.1 666.4,170.4 666.9,170.7 667.4,171 668,171.2 668.5,171.4 669,171.6 669.5,171.8 670,172 670.5,172.1 671,172.2" fill="none" stroke="#000" stroke-width="3.1" stroke-linejoin="round" stroke-linecap="square"/>
</g>
<style>text{font-family:"Liberation Serif",serif;fill:#1c1c1c}.t{font-size:19.4px}.s{font-size:12.8px}.i{font-size:18.5px;font-style:italic}.l{font-size:15.6px}.li{font-size:15.6px;font-style:italic}.si{font-size:13.2px;font-style:italic}</style>
<rect x="53.6" y="12.0" width="278.7" height="205.5" fill="none" stroke="#000" stroke-width="1.25"/>
<path d="M84.5 217.5v5M174.4 217.5v5M264.3 217.5v5M53.6 217.5h-5M53.6 172.8h-5M53.6 128.1h-5M53.6 83.4h-5M53.6 38.7h-5" stroke="#000" stroke-width="1.2" fill="none"/>
<path d="M57.4 217.5v2.9M64.6 217.5v2.9M70.6 217.5v2.9M75.8 217.5v2.9M80.4 217.5v2.9M111.6 217.5v2.9M127.4 217.5v2.9M138.6 217.5v2.9M147.3 217.5v2.9M154.5 217.5v2.9M160.5 217.5v2.9M165.7 217.5v2.9M170.3 217.5v2.9M201.5 217.5v2.9M217.3 217.5v2.9M228.5 217.5v2.9M237.2 217.5v2.9M244.4 217.5v2.9M250.4 217.5v2.9M255.6 217.5v2.9M260.2 217.5v2.9M291.4 217.5v2.9M307.2 217.5v2.9M318.4 217.5v2.9M327.1 217.5v2.9" stroke="#000" stroke-width="0.9" fill="none"/>
<text x="41.4" y="224" text-anchor="end" class="t" textLength="8.8" lengthAdjust="spacingAndGlyphs">0</text>
<text x="41.4" y="179.3" text-anchor="end" class="t" textLength="8.8" lengthAdjust="spacingAndGlyphs">5</text>
<text x="41.4" y="134.6" text-anchor="end" class="t" textLength="17.5" lengthAdjust="spacingAndGlyphs">10</text>
<text x="41.4" y="89.9" text-anchor="end" class="t" textLength="17.5" lengthAdjust="spacingAndGlyphs">15</text>
<text x="41.4" y="45.2" text-anchor="end" class="t" textLength="17.5" lengthAdjust="spacingAndGlyphs">20</text>
<text x="71.2" y="247.2" class="t"><tspan textLength="17.5" lengthAdjust="spacingAndGlyphs">10</tspan><tspan x="88.7" y="239.9" class="s">0</tspan></text>
<text x="161.1" y="247.2" class="t"><tspan textLength="17.5" lengthAdjust="spacingAndGlyphs">10</tspan><tspan x="178.6" y="239.9" class="s">1</tspan></text>
<text x="251" y="247.2" class="t"><tspan textLength="17.5" lengthAdjust="spacingAndGlyphs">10</tspan><tspan x="268.5" y="239.9" class="s">2</tspan></text>
<text x="184.2" y="269" class="i">y<tspan x="198.6" y="265.2" text-anchor="middle" font-size="14.5" font-style="normal">+</tspan></text>
<rect x="405.0" y="12.0" width="278.6" height="205.5" fill="none" stroke="#000" stroke-width="1.25"/>
<path d="M435.8 217.5v5M525.7 217.5v5M615.6 217.5v5M405 217.5h-5M405 149h-5M405 80.5h-5M405 12h-5" stroke="#000" stroke-width="1.2" fill="none"/>
<path d="M408.7 217.5v2.9M415.9 217.5v2.9M421.9 217.5v2.9M427.1 217.5v2.9M431.7 217.5v2.9M462.9 217.5v2.9M478.7 217.5v2.9M489.9 217.5v2.9M498.6 217.5v2.9M505.8 217.5v2.9M511.8 217.5v2.9M517 217.5v2.9M521.6 217.5v2.9M552.8 217.5v2.9M568.6 217.5v2.9M579.8 217.5v2.9M588.5 217.5v2.9M595.7 217.5v2.9M601.7 217.5v2.9M606.9 217.5v2.9M611.5 217.5v2.9M642.7 217.5v2.9M658.5 217.5v2.9M669.7 217.5v2.9M678.4 217.5v2.9" stroke="#000" stroke-width="0.9" fill="none"/>
<text x="392.8" y="224" text-anchor="end" class="t" textLength="8.8" lengthAdjust="spacingAndGlyphs">0</text>
<text x="392.8" y="155.5" text-anchor="end" class="t" textLength="8.8" lengthAdjust="spacingAndGlyphs">1</text>
<text x="392.8" y="87" text-anchor="end" class="t" textLength="8.8" lengthAdjust="spacingAndGlyphs">2</text>
<text x="392.8" y="18.5" text-anchor="end" class="t" textLength="8.8" lengthAdjust="spacingAndGlyphs">3</text>
<text x="422.5" y="247.2" class="t"><tspan textLength="17.5" lengthAdjust="spacingAndGlyphs">10</tspan><tspan x="440" y="239.9" class="s">0</tspan></text>
<text x="512.4" y="247.2" class="t"><tspan textLength="17.5" lengthAdjust="spacingAndGlyphs">10</tspan><tspan x="529.9" y="239.9" class="s">1</tspan></text>
<text x="602.3" y="247.2" class="t"><tspan textLength="17.5" lengthAdjust="spacingAndGlyphs">10</tspan><tspan x="619.8" y="239.9" class="s">2</tspan></text>
<text x="535.5" y="269" class="i">y<tspan x="549.9" y="265.2" text-anchor="middle" font-size="14.5" font-style="normal">+</tspan></text>
<text y="14.6" font-size="16.5"><tspan x="2.2" font-size="21" dy="0.4">(</tspan><tspan x="8.6" dy="-0.4">a</tspan><tspan x="16.4" font-size="21" dy="0.4">)</tspan></text>
<text y="14.6" font-size="16.5"><tspan x="349.4" font-size="21" dy="0.4">(</tspan><tspan x="356" dy="-0.4">b</tspan><tspan x="364.6" font-size="21" dy="0.4">)</tspan></text>
<g transform="translate(15,127.4) rotate(-90)"><text x="0" y="0" class="i">U<tspan x="19" y="-5.4" text-anchor="middle" font-size="14.5" font-style="normal">+</tspan></text></g>
<path d="M66 32.35h34.9" stroke="#000" stroke-width="3.0"/>
<path d="M66 55.4h34.9" stroke="#0000ff" stroke-width="3.0"/><circle cx="83.5" cy="55.4" r="3.7" fill="#0000ff"/>
<path d="M66 78.45h34.9" stroke="#008000" stroke-width="3.0"/><circle cx="83.5" cy="78.45" r="3.7" fill="#008000"/>
<path d="M66 101.5h34.9" stroke="#ff0000" stroke-width="3.0"/><circle cx="83.5" cy="101.5" r="3.7" fill="#ff0000"/>
<text x="112.3" y="37.45" font-size="16.4" textLength="71" lengthAdjust="spacing">PCH-DNS</text>
<text y="60.5" class="l"><tspan x="112.2" class="li" textLength="8.45" lengthAdjust="spacingAndGlyphs">x</tspan><tspan x="125.1" textLength="13.2" lengthAdjust="spacingAndGlyphs">=</tspan><tspan x="141.7">0</tspan><tspan x="150" class="li" textLength="8.42" lengthAdjust="spacingAndGlyphs">h</tspan></text>
<text y="83.5" class="l"><tspan x="112.2" class="li" textLength="8.45" lengthAdjust="spacingAndGlyphs">x</tspan><tspan x="125.1" textLength="13.2" lengthAdjust="spacingAndGlyphs">=</tspan><tspan x="141.7">0.7</tspan><tspan x="162.2" class="li" textLength="8.42" lengthAdjust="spacingAndGlyphs">h</tspan></text>
<text y="106.6" class="l"><tspan x="112.2" class="li" textLength="8.45" lengthAdjust="spacingAndGlyphs">x</tspan><tspan x="125.1" textLength="13.2" lengthAdjust="spacingAndGlyphs">=</tspan><tspan x="141.7">1.5</tspan><tspan x="162.2" class="li" textLength="8.42" lengthAdjust="spacingAndGlyphs">h</tspan></text>
<path d="M418 33.7h34.4" stroke="#ff0000" stroke-width="3.0"/>
<circle cx="435.1" cy="33.7" r="3.7" fill="#ff0000"/>
<text x="463.8" y="35.5" class="li">u<tspan x="472.3" y="39.2" class="si" textLength="22.3" lengthAdjust="spacing">rms</tspan><tspan x="476.4" y="31.7" text-anchor="middle" font-size="13.5" font-style="normal">+</tspan></text>
<path d="M418 58.3h34.4" stroke="#ff0000" stroke-width="3.0"/>
<rect x="431.40000000000003" y="54.599999999999994" width="7.4" height="7.4" fill="#ff0000"/>
<text x="463.8" y="60.1" class="li">v<tspan x="472.3" y="63.8" class="si" textLength="22.3" lengthAdjust="spacing">rms</tspan><tspan x="476.4" y="56.3" text-anchor="middle" font-size="13.5" font-style="normal">+</tspan></text>
<path d="M418 82.7h34.4" stroke="#ff0000" stroke-width="3.0"/>
<path d="M432.4 80l5.4 5.4m-5.4 0l5.4 -5.4" stroke="#ff0000" stroke-width="1.2" fill="none"/>
<text x="463.8" y="84.5" class="li">w<tspan x="474.5" y="88.2" class="si" textLength="22.3" lengthAdjust="spacing">rms</tspan><tspan x="478.6" y="80.7" text-anchor="middle" font-size="13.5" font-style="normal">+</tspan></text>
</svg>
</body></html>
